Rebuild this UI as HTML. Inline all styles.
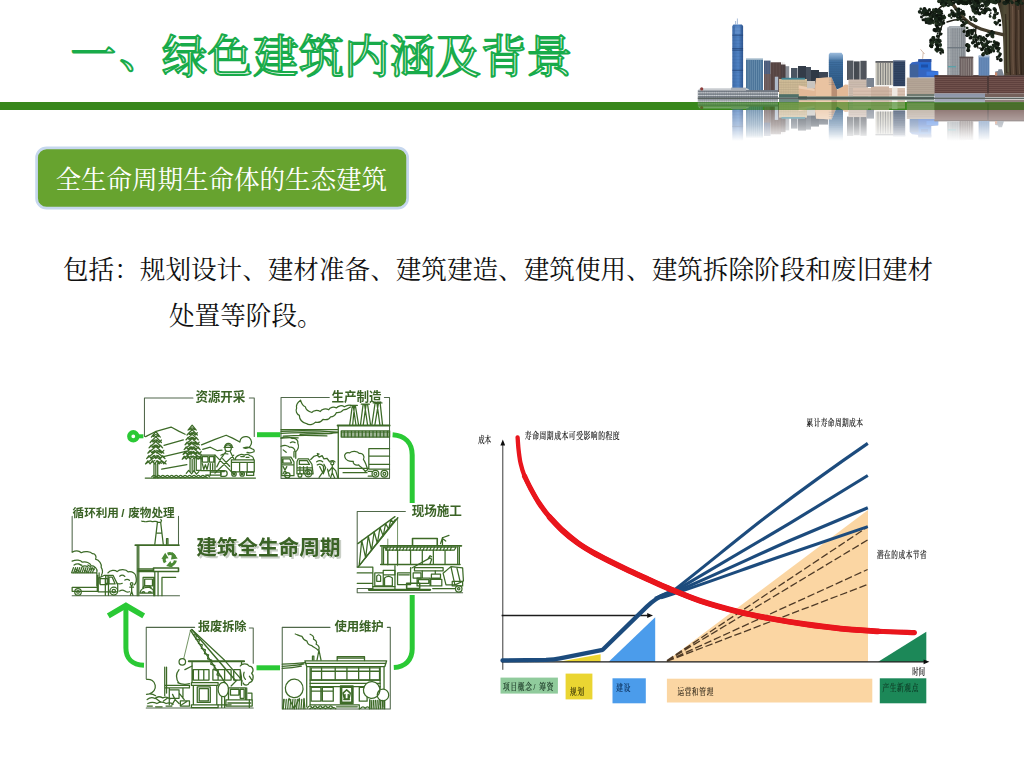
<!DOCTYPE html>
<html lang="zh-CN"><head><meta charset="utf-8"><title>一、绿色建筑内涵及背景</title>
<style>
html,body{margin:0;padding:0;background:#fff}
body{width:1024px;height:768px;position:relative;overflow:hidden;font-family:"Liberation Sans",sans-serif}
#art{position:absolute;left:0;top:0;width:1024px;height:768px;display:block}
.tx{position:absolute;margin:0;color:transparent;white-space:nowrap;overflow:hidden;font-family:"Liberation Serif",serif;font-weight:normal;line-height:1;user-select:none}
</style></head>
<body>
<svg id="art" width="1024" height="768" viewBox="0 0 1024 768">
<rect x="0" y="102" width="1024" height="8" fill="#38871b"/>
<g fill="#eefaf0" stroke="#18ab4a" stroke-width="2" stroke-linejoin="round" font-family="'Liberation Serif','Noto Serif CJK SC',serif" font-size="45.5"><text x="70.5" y="71.4">一</text><text x="119.2" y="68.4">、</text><text x="161.7" y="72.6" letter-spacing="0.1">绿色建筑内涵及背景</text></g>
<rect x="36.6" y="147.8" width="371" height="60.4" rx="10" ry="10" fill="#67a32f" stroke="#c6d7ee" stroke-width="2.7"/>
<text x="55.6" y="189" fill="#fff" font-family="'Liberation Serif','Noto Serif CJK SC',serif" font-size="25.6" letter-spacing="-0.1">全生命周期生命体的生态建筑</text>
<text x="63" y="279" fill="#111" font-family="'Liberation Serif','Noto Serif CJK SC',serif" font-size="25.6">包括：规划设计、建材准备、建筑建造、建筑使用、建筑拆除阶段和废旧建材</text>
<text x="169" y="324.6" fill="#111" font-family="'Liberation Serif','Noto Serif CJK SC',serif" font-size="25.6">处置等阶段。</text><defs><linearGradient id="rfade" x1="0" x2="0" y1="98.3" y2="141" gradientUnits="userSpaceOnUse"><stop offset="0" stop-color="#fff" stop-opacity=".85"/><stop offset=".085" stop-color="#fff" stop-opacity=".8"/><stop offset=".09" stop-color="#fff" stop-opacity=".38"/><stop offset=".27" stop-color="#fff" stop-opacity=".42"/><stop offset=".28" stop-color="#fff" stop-opacity=".72"/><stop offset=".62" stop-color="#fff" stop-opacity=".45"/><stop offset="1" stop-color="#fff" stop-opacity="0"/></linearGradient><mask id="rmask" maskUnits="userSpaceOnUse" x="690" y="98.3" width="334" height="46"><rect x="690" y="98.3" width="334" height="46" fill="url(#rfade)"/></mask></defs><g id="sky"><rect x="791" y="68" width="6.5" height="24" fill="#4a5562" /><rect x="798" y="66" width="8" height="26" fill="#333c48" /><rect x="806" y="67" width="5" height="25" fill="#46505d" /><rect x="811" y="70" width="8" height="22" fill="#2f3946" /><rect x="819" y="72" width="9" height="20" fill="#3c4654" /><rect x="785" y="66.2" width="4.2" height="25.8" fill="#8c9098" /><defs><linearGradient id="icc" x1="0" x2="1" y1="0" y2="0"><stop offset="0" stop-color="#3d6aa8"/><stop offset=".55" stop-color="#4f82c4"/><stop offset="1" stop-color="#2f5690"/></linearGradient><linearGradient id="gl2" x1="0" x2="0" y1="0" y2="1"><stop offset="0" stop-color="#9bbbdc"/><stop offset=".25" stop-color="#3f6fa0"/><stop offset="1" stop-color="#2c5680"/></linearGradient><linearGradient id="trk" x1="0" x2="1" y1="0" y2="0"><stop offset="0" stop-color="#2c241a"/><stop offset=".3" stop-color="#4f4b36"/><stop offset=".6" stop-color="#574234"/><stop offset="1" stop-color="#392d22"/></linearGradient></defs><polygon points="732.3,26 733.5,24.4 741.8,24.4 743.1,26 743.1,89 732.3,89" fill="url(#icc)" /><path d="M737.4 24.4V18.5M735.6 24.4V21" stroke="#6d8fbd" stroke-width=".6"/><path d="M732.3 35.2H743.1M732.3 48.6H743.1M732.3 50.2H743.1M732.3 70.3H743.1" stroke="#1f3f73" stroke-width=".9" opacity=".8"/><rect x="735" y="26.5" width="5.5" height="7.5" fill="#6d97d2" opacity=".6"/><path d="M732.3 27.6H743.1M732.3 30.8H743.1M732.3 34H743.1M732.3 37.2H743.1M732.3 40.4H743.1M732.3 43.6H743.1M732.3 46.8H743.1M732.3 50H743.1M732.3 53.2H743.1M732.3 56.4H743.1M732.3 59.6H743.1M732.3 62.8H743.1M732.3 66H743.1M732.3 69.2H743.1M732.3 72.4H743.1M732.3 75.6H743.1M732.3 78.8H743.1M732.3 82H743.1M732.3 85.2H743.1M732.3 88.4H743.1" stroke="#2c548d" stroke-width="0.4" opacity="0.35" fill="none"/><rect x="746" y="58.8" width="17" height="33.2" fill="#4a7398" /><path d="M748.1 59V92M750.2 59V92M752.3 59V92M754.4 59V92M756.5 59V92M758.6 59V92M760.7 59V92" stroke="#9dbcd4" stroke-width="0.7" opacity="0.5" fill="none"/><rect x="746" y="58.6" width="17" height="1.4" fill="#9fb6c8" /><rect x="764" y="60.6" width="6.5" height="31.4" fill="#475878" /><rect x="764" y="74" width="6.5" height="18" fill="#6a5552" /><path d="M765.6 61V92M767.2 61V92M768.8 61V92" stroke="#8d93a8" stroke-width="0.5" opacity="0.5" fill="none"/><rect x="770.5" y="62.3" width="10.5" height="29.7" fill="#52403f" /><rect x="781" y="64.5" width="4.5" height="27.5" fill="#453a3c" /><path d="M772 62.3V92M773.5 62.3V92M775 62.3V92M776.5 62.3V92M778 62.3V92M779.5 62.3V92M781 62.3V92M782.5 62.3V92M784 62.3V92" stroke="#8a7672" stroke-width="0.45" opacity="0.45" fill="none"/><rect x="774.8" y="76.7" width="3.4" height="15.3" fill="#aebaca" /><rect x="697.8" y="90.2" width="80.2" height="8.1" fill="#7b828b" /><polygon points="697.8,90.2 700,88.2 747,88.2 750,90.2" fill="#c9ccd0" /><rect x="731" y="87.6" width="15" height="2.4" fill="#a9afb8" /><path d="M697.8 92.8H778M697.8 95.4H778M697.8 98H778" stroke="#eef0f2" stroke-width="0.9" opacity="0.85" fill="none"/><path d="M700 91V98M702.2 91V98M704.4 91V98M706.6 91V98M708.8 91V98M711 91V98M713.2 91V98M715.4 91V98M717.6 91V98M719.8 91V98M722 91V98M724.2 91V98M726.4 91V98M728.6 91V98M730.8 91V98M733 91V98M735.2 91V98M737.4 91V98M739.6 91V98M741.8 91V98M744 91V98M746.2 91V98M748.4 91V98M750.6 91V98M752.8 91V98M755 91V98M757.2 91V98M759.4 91V98M761.6 91V98M763.8 91V98M766 91V98M768.2 91V98M770.4 91V98M772.6 91V98M774.8 91V98M777 91V98" stroke="#4a4f58" stroke-width="0.5" opacity="0.45" fill="none"/><circle cx="701.7" cy="88.9" r="1.6" fill="#8c3c3a"/><rect x="746" y="90.3" width="32" height="1.1" fill="#6f7680" /><rect x="779" y="79" width="28" height="17.5" fill="#cfbb97" /><rect x="781.5" y="77.8" width="23.5" height="1.8" fill="#3f8494" /><path d="M779 82.4H807M779 84.8H807M779 87.2H807M779 89.6H807M779 92H807M779 94.4H807" stroke="#9d8f73" stroke-width="0.5" opacity="0.55" fill="none"/><path d="M781.3 80V96M783.6 80V96M785.9 80V96M788.2 80V96M790.5 80V96M792.8 80V96M795.1 80V96M797.4 80V96M799.7 80V96M802 80V96M804.3 80V96M806.6 80V96" stroke="#b3a483" stroke-width="0.4" opacity="0.5" fill="none"/><rect x="779" y="94.2" width="28" height="3.4" fill="#4f7068" /><polygon points="798.8,85.5 814.5,88.6 816,78.2 831.5,77.2 837,90 845,84.5 848.5,84.8 848.5,96.6 798.8,96.6" fill="#e2b997" /><polygon points="816,78.2 831.5,77.2 831.5,96.6 816,96.6" fill="#e9c3a1" /><polygon points="831.5,77.2 837,90 837,96.6 831.5,96.6" fill="#b98f74" /><polygon points="798.8,85.5 814.5,88.6 814.5,91 798.8,88.5" fill="#eccdb2" /><rect x="807" y="81" width="8" height="7.3" fill="#c9c5c0" /><polygon points="828.8,54.5 830,52.8 841.5,52.8 843,55 843,86.5 838,89 836.8,89.5 831.6,77.2 828.8,77.3" fill="url(#gl2)" /><path d="M828.8 60.2H843M828.8 62.4H843M828.8 64.6H843M828.8 66.8H843M828.8 69H843M828.8 71.2H843M828.8 73.4H843M828.8 75.6H843M828.8 77.8H843M828.8 80H843M828.8 82.2H843M828.8 84.4H843" stroke="#1f4468" stroke-width="0.4" opacity="0.5" fill="none"/><rect x="847" y="60.6" width="6.3" height="19.4" fill="#50555c" /><rect x="853.8" y="61.4" width="5.8" height="18.6" fill="#3f444b" /><rect x="860.4" y="60.8" width="6.2" height="19.2" fill="#4a4e56" /><path d="M848.3 61V80M849.6 61V80M850.9 61V80M852.2 61V80M853.5 61V80M854.8 61V80M856.1 61V80M857.4 61V80M858.7 61V80M860 61V80M861.3 61V80M862.6 61V80M863.9 61V80M865.2 61V80" stroke="#7b8088" stroke-width="0.35" opacity="0.5" fill="none"/><rect x="848.5" y="79.5" width="19.5" height="17.1" fill="#cdbcb0" /><path d="M848.5 82.2H868M848.5 84.4H868M848.5 86.6H868M848.5 88.8H868M848.5 91H868M848.5 93.2H868M848.5 95.4H868" stroke="#a29084" stroke-width="0.4" opacity="0.5" fill="none"/><rect x="853" y="88" width="52" height="8.6" fill="#d8c1b1" /><rect x="871" y="86.4" width="18" height="10.2" fill="#cdb4a2" /><path d="M853 91.2H905M853 94.4H905" stroke="#a98d7c" stroke-width="0.5" opacity="0.5" fill="none"/><rect x="892" y="87.5" width="5.5" height="9.1" fill="#efe9e2" /><rect x="866.5" y="78" width="7.5" height="9" fill="#7a8390" /><rect x="875.5" y="61.6" width="17.7" height="23.6" fill="#c9c6bb" /><rect x="875.5" y="61.2" width="17.7" height="1.4" fill="#3c4048" /><path d="M878 63V85M880.5 63V85M883 63V85M885.5 63V85M888 63V85M890.5 63V85" stroke="#5b5e62" stroke-width="1.0" opacity="0.7" fill="none"/><rect x="893.2" y="60.4" width="12" height="25.8" fill="#2d3f5c" /><path d="M893.2 63.3H905.2M893.2 65.6H905.2M893.2 67.9H905.2M893.2 70.2H905.2M893.2 72.5H905.2M893.2 74.8H905.2M893.2 77.1H905.2M893.2 79.4H905.2M893.2 81.7H905.2M893.2 84H905.2" stroke="#5c7397" stroke-width="0.4" opacity="0.5" fill="none"/><rect x="893.2" y="60.2" width="12" height="1.2" fill="#8795aa" /><polygon points="909.8,64.5 912,62.3 918.3,61.5 918.3,59.4 931.3,59 931.3,70.6 938.2,71.2 938.2,77.5 909.8,77.5" fill="#3565c0" /><rect x="918.3" y="59.2" width="13" height="2.8" fill="#2a4e9a" /><rect x="909.8" y="64.5" width="8.5" height="13" fill="#3f629a" /><rect x="919" y="62.5" width="11.5" height="7" fill="#2468cf" /><rect x="921" y="64.5" width="7" height="3" fill="#1d4fa8" /><rect x="926.5" y="71.6" width="11.7" height="4" fill="#3a78e0" /><path d="M922.6 58.8L923.2 52.5L920.5 49.3M923.2 52.5L924.6 54" stroke="#a87b5a" stroke-width=".5" fill="none"/><rect x="906.8" y="77.6" width="27.9" height="16.4" fill="#b7a899" /><path d="M906.8 79.9H934.7M906.8 81.8H934.7M906.8 83.7H934.7M906.8 85.6H934.7M906.8 87.5H934.7M906.8 89.4H934.7M906.8 91.3H934.7M906.8 93.2H934.7" stroke="#8d7f73" stroke-width="0.45" opacity="0.6" fill="none"/><rect x="906.8" y="94" width="27.9" height="2" fill="#6f7a70" /><rect x="934.5" y="75.6" width="89.5" height="17.9" fill="#5e403d" /><path d="M934.5 77.6H1024M934.5 79.6H1024M934.5 81.6H1024M934.5 83.6H1024M934.5 85.6H1024M934.5 87.6H1024M934.5 89.6H1024M934.5 91.6H1024" stroke="#a07f78" stroke-width="0.55" opacity="0.55" fill="none"/><rect x="934.5" y="75.2" width="89.5" height="1.4" fill="#4a3634" /><rect x="987" y="76.4" width="2" height="17.1" fill="#4e3a38" /><rect x="934.5" y="93.5" width="50.5" height="4.1" fill="#8b93a6" /><rect x="985" y="93.5" width="39" height="3.5" fill="#75615c" /><path d="M934.5 95.1H985M934.5 96.7H985" stroke="#b6bccb" stroke-width="0.4" opacity="0.6" fill="none"/><rect x="947.4" y="27.6" width="18" height="47.4" fill="#8b9298" /><polygon points="947.4,27.6 949.5,26.2 963.5,26.2 965.4,27.6" fill="#8a939c" /><rect x="947.4" y="27.6" width="3.6" height="47.4" fill="#9da3a8" /><rect x="961" y="27.6" width="4.4" height="47.4" fill="#7f858b" /><path d="M947.4 29.5H965.4M947.4 31H965.4M947.4 32.5H965.4M947.4 34H965.4M947.4 35.5H965.4M947.4 37H965.4M947.4 38.5H965.4M947.4 40H965.4M947.4 41.5H965.4M947.4 43H965.4M947.4 44.5H965.4M947.4 46H965.4M947.4 47.5H965.4M947.4 49H965.4M947.4 50.5H965.4M947.4 52H965.4M947.4 53.5H965.4M947.4 55H965.4M947.4 56.5H965.4M947.4 58H965.4M947.4 59.5H965.4M947.4 61H965.4M947.4 62.5H965.4M947.4 64H965.4M947.4 65.5H965.4M947.4 67H965.4M947.4 68.5H965.4M947.4 70H965.4M947.4 71.5H965.4M947.4 73H965.4M947.4 74.5H965.4" stroke="#70767c" stroke-width="0.35" opacity="0.5" fill="none"/><path d="M949.6 28V75M951.8 28V75M954 28V75M956.2 28V75M958.4 28V75M960.6 28V75M962.8 28V75M965 28V75" stroke="#c9ccce" stroke-width="0.6" opacity="0.6" fill="none"/><rect x="947.4" y="47" width="18" height="1.4" fill="#6f7880" /><rect x="948" y="66" width="8" height="1.4" fill="#5da0a8" /><rect x="959.6" y="57" width="13.6" height="18.6" fill="#6b5f5f" /><path d="M961.8 58.5V75.6M964 58.5V75.6M966.2 58.5V75.6M968.4 58.5V75.6M970.6 58.5V75.6M972.8 58.5V75.6" stroke="#c4bbb2" stroke-width="0.7" opacity="0.6" fill="none"/><rect x="959.6" y="56.6" width="13.6" height="1.4" fill="#5b4e4d" /><rect x="978.6" y="56.2" width="10.8" height="19.4" fill="#5c80b0" /><rect x="978.6" y="55.2" width="10.8" height="2.2" fill="#9db4cf" /><path d="M980.4 57.4V75.6M982.2 57.4V75.6M984 57.4V75.6M985.8 57.4V75.6M987.6 57.4V75.6" stroke="#93aed0" stroke-width="0.45" opacity="0.55" fill="none"/><polygon points="995,75.6 995.2,71.5 998,71 998.5,69.3 1002,69.3 1004,75.6" fill="#7d8794" /><rect x="995" y="72.4" width="2.2" height="3.2" fill="#c9866a" /><rect x="798" y="96.4" width="136" height="1.9" fill="#4a6458" opacity=".85"/><path d="M697.8 98.1H1024" stroke="#27332f" stroke-width="1" opacity=".85"/></g><g mask="url(#rmask)"><use href="#sky" transform="translate(0 196.6) scale(1 -1)"/></g><path d="M996 0C998.5 5 1000.8 12 1002 22C1003.2 34 1003.6 48 1004.2 75.2H1024V0Z" fill="url(#trk)"/><path d="M1009 0C1010.5 20 1008.5 45 1010.5 75M1015.5 0C1017 25 1014.5 50 1016.5 75M1020.5 0C1021.5 30 1020 55 1021.5 75M1005.5 14C1006.5 30 1006 50 1006.8 73" stroke="#241b12" stroke-width="1.3" opacity=".6" fill="none"/><path d="M1012.5 6C1013.5 25 1012 50 1013.5 74M1018.5 10C1019.5 30 1018 52 1019.5 74" stroke="#7d6854" stroke-width="1.1" opacity=".55" fill="none"/><path d="M1007.5 20C1008.5 35 1007.5 55 1008.3 72" stroke="#5f6448" stroke-width="1.6" opacity=".6" fill="none"/><path d="M1003 34.5C996 33 988 31.5 981 29C973 26 966 21.5 961 15C957.5 10.5 954 6 951 2" stroke="#453d2d" stroke-width="3.4" fill="none" stroke-linecap="round"/><path d="M976 27C975 34 975.5 41 978 48M966 20C960 19 953 20 947 22M947 3C943 5 939 8 935 12M944 20C941 27 939 35 938 44" stroke="#1d1c14" stroke-width="1.4" fill="none" stroke-linecap="round"/><circle cx="958.08" cy="0.31" r="1.58" fill="#0e140e"/><circle cx="974.13" cy="3.82" r="1.06" fill="#0e140e"/><circle cx="964.89" cy="0.47" r="0.91" fill="#10180f"/><circle cx="941.66" cy="1.62" r="1.94" fill="#18241a"/><circle cx="976.9" cy="4.07" r="1.49" fill="#10180f"/><circle cx="972.51" cy="0.34" r="1.3" fill="#22301f"/><circle cx="945.3" cy="-0.03" r="1.78" fill="#141d14"/><circle cx="944.39" cy="1.66" r="1.03" fill="#0e140e"/><circle cx="971.96" cy="0.48" r="0.87" fill="#141d14"/><circle cx="968.78" cy="1.4" r="1.73" fill="#10180f"/><circle cx="974.3" cy="0.9" r="1.16" fill="#141d14"/><circle cx="981.34" cy="-0.44" r="1.49" fill="#22301f"/><circle cx="968.7" cy="0.2" r="1.34" fill="#22301f"/><circle cx="963.92" cy="2.85" r="0.98" fill="#10180f"/><circle cx="964.15" cy="4.16" r="0.89" fill="#22301f"/><circle cx="973.53" cy="3.6" r="1.18" fill="#18241a"/><circle cx="959.71" cy="1.18" r="1.76" fill="#0e140e"/><circle cx="967.39" cy="2.25" r="0.87" fill="#18241a"/><circle cx="957.2" cy="1.7" r="1.62" fill="#10180f"/><circle cx="955.64" cy="0.47" r="1.6" fill="#0e140e"/><circle cx="996.32" cy="0.27" r="1.53" fill="#10180f"/><circle cx="946.02" cy="-0.42" r="1.27" fill="#10180f"/><circle cx="943" cy="0.87" r="1.46" fill="#141d14"/><circle cx="988.8" cy="3.53" r="1.13" fill="#10180f"/><circle cx="961.59" cy="-0.52" r="0.9" fill="#141d14"/><circle cx="952.38" cy="-0.51" r="1.38" fill="#22301f"/><circle cx="949.31" cy="-0.2" r="0.97" fill="#22301f"/><circle cx="960.89" cy="1.62" r="1.94" fill="#18241a"/><circle cx="978.61" cy="2.73" r="1.35" fill="#18241a"/><circle cx="987.47" cy="0.51" r="1.28" fill="#0e140e"/><circle cx="967.85" cy="0.56" r="1.03" fill="#141d14"/><circle cx="965.32" cy="0.39" r="1.52" fill="#0e140e"/><circle cx="944.29" cy="0.33" r="0.83" fill="#141d14"/><circle cx="976.07" cy="0.31" r="1.1" fill="#1b2a1b"/><circle cx="975.34" cy="1.03" r="0.94" fill="#10180f"/><circle cx="999.57" cy="0.98" r="1.38" fill="#0e140e"/><circle cx="946.94" cy="2.8" r="1.69" fill="#10180f"/><circle cx="989.39" cy="-0.97" r="0.83" fill="#22301f"/><circle cx="960.43" cy="2.42" r="1.9" fill="#22301f"/><circle cx="956.48" cy="2.11" r="0.91" fill="#1b2a1b"/><circle cx="970.14" cy="3.81" r="1.23" fill="#141d14"/><circle cx="971.02" cy="2.99" r="1.2" fill="#141d14"/><circle cx="976.02" cy="3.05" r="1.71" fill="#141d14"/><circle cx="987.98" cy="3.24" r="1.69" fill="#141d14"/><circle cx="950.39" cy="1.15" r="1.68" fill="#0e140e"/><circle cx="986.99" cy="1.02" r="1.03" fill="#22301f"/><circle cx="997.3" cy="0.86" r="1.92" fill="#1b2a1b"/><circle cx="997.21" cy="0.33" r="1.06" fill="#141d14"/><circle cx="967.14" cy="0.16" r="1.38" fill="#22301f"/><circle cx="990.11" cy="1.07" r="1.58" fill="#18241a"/><circle cx="943.26" cy="2.23" r="1.89" fill="#18241a"/><circle cx="984.51" cy="1.06" r="1.01" fill="#18241a"/><circle cx="958.62" cy="3.13" r="1.97" fill="#10180f"/><circle cx="966.72" cy="2.76" r="0.9" fill="#141d14"/><circle cx="948.54" cy="0.36" r="0.98" fill="#10180f"/><circle cx="988" cy="0.32" r="1.79" fill="#10180f"/><circle cx="978.75" cy="0.24" r="1.46" fill="#141d14"/><circle cx="983.03" cy="0.4" r="1.7" fill="#141d14"/><circle cx="964.9" cy="3.58" r="1.79" fill="#141d14"/><circle cx="969.07" cy="2.89" r="1.19" fill="#22301f"/><circle cx="963.98" cy="0.35" r="1.89" fill="#1b2a1b"/><circle cx="993.66" cy="2.24" r="1.78" fill="#22301f"/><circle cx="964.08" cy="3.87" r="1.4" fill="#22301f"/><circle cx="947.41" cy="1.27" r="1.85" fill="#141d14"/><circle cx="975.73" cy="2.97" r="0.98" fill="#141d14"/><circle cx="967.36" cy="2.64" r="1.47" fill="#1b2a1b"/><circle cx="980.3" cy="1.4" r="1.38" fill="#0e140e"/><circle cx="944.06" cy="0.89" r="0.83" fill="#0e140e"/><circle cx="965.48" cy="1.92" r="1.41" fill="#22301f"/><circle cx="950.36" cy="-0.23" r="1.41" fill="#10180f"/><circle cx="969.48" cy="-0.42" r="1.43" fill="#1b2a1b"/><circle cx="950.56" cy="0.86" r="1.3" fill="#10180f"/><circle cx="965.41" cy="0.46" r="1.09" fill="#0e140e"/><circle cx="951.19" cy="-0.06" r="0.95" fill="#141d14"/><circle cx="996.25" cy="2.12" r="1.24" fill="#1b2a1b"/><circle cx="962.69" cy="1.12" r="1.99" fill="#141d14"/><circle cx="948.01" cy="0.76" r="1.42" fill="#1b2a1b"/><circle cx="964.12" cy="0.28" r="0.91" fill="#1b2a1b"/><circle cx="939.21" cy="1.55" r="1.33" fill="#0e140e"/><circle cx="961.83" cy="1.31" r="1.15" fill="#0e140e"/><circle cx="952.17" cy="3.61" r="0.9" fill="#1b2a1b"/><circle cx="954.77" cy="0.35" r="1.31" fill="#18241a"/><circle cx="988.78" cy="-0.34" r="0.98" fill="#22301f"/><circle cx="973.38" cy="2.48" r="0.91" fill="#0e140e"/><circle cx="987.57" cy="-0.83" r="1.87" fill="#1b2a1b"/><circle cx="996.18" cy="2.06" r="1.76" fill="#0e140e"/><circle cx="975.71" cy="-0.58" r="1.12" fill="#0e140e"/><circle cx="966.13" cy="0.17" r="1.46" fill="#1b2a1b"/><circle cx="976.55" cy="0.52" r="1.65" fill="#0e140e"/><circle cx="976.98" cy="1.4" r="1.05" fill="#10180f"/><circle cx="969.01" cy="-0.86" r="1.22" fill="#0e140e"/><circle cx="939.14" cy="1.24" r="1.97" fill="#22301f"/><circle cx="967.44" cy="3.98" r="0.93" fill="#18241a"/><circle cx="964.8" cy="1.17" r="1.8" fill="#10180f"/><circle cx="951.34" cy="-0.53" r="1.04" fill="#18241a"/><circle cx="983.19" cy="0.33" r="1.99" fill="#0e140e"/><circle cx="976.78" cy="3.63" r="1.32" fill="#0e140e"/><circle cx="991.97" cy="2.29" r="1.14" fill="#141d14"/><circle cx="980.95" cy="0.51" r="1.02" fill="#1b2a1b"/><circle cx="965.64" cy="-0.32" r="1.95" fill="#22301f"/><circle cx="958.06" cy="0.53" r="1.86" fill="#141d14"/><circle cx="961.66" cy="1.04" r="1.4" fill="#141d14"/><circle cx="953.39" cy="2.97" r="0.91" fill="#0e140e"/><circle cx="946.92" cy="1.76" r="1.27" fill="#1b2a1b"/><circle cx="956.86" cy="-0.51" r="1.5" fill="#22301f"/><circle cx="990.9" cy="0.3" r="1.87" fill="#22301f"/><circle cx="962.15" cy="0.09" r="1.98" fill="#141d14"/><circle cx="955.62" cy="1.96" r="0.97" fill="#18241a"/><circle cx="993.3" cy="2.01" r="1.68" fill="#22301f"/><circle cx="946.64" cy="1.35" r="1.41" fill="#0e140e"/><circle cx="989.24" cy="1.74" r="1.87" fill="#18241a"/><circle cx="997.28" cy="2.11" r="0.9" fill="#0e140e"/><circle cx="946.25" cy="0.31" r="0.93" fill="#10180f"/><circle cx="972.63" cy="2.02" r="1.55" fill="#18241a"/><circle cx="953.16" cy="-0.31" r="1.35" fill="#0e140e"/><circle cx="984.39" cy="1.22" r="1.44" fill="#18241a"/><circle cx="970.61" cy="2.77" r="1.37" fill="#0e140e"/><circle cx="990.46" cy="-0.5" r="1.71" fill="#141d14"/><circle cx="968.62" cy="0.45" r="1.37" fill="#18241a"/><circle cx="977.23" cy="-0.73" r="1.52" fill="#1b2a1b"/><circle cx="953.74" cy="2.76" r="1.17" fill="#22301f"/><circle cx="946.27" cy="1.09" r="1.38" fill="#18241a"/><circle cx="944.17" cy="-0.61" r="1.39" fill="#18241a"/><circle cx="970.03" cy="0.97" r="1.36" fill="#0e140e"/><circle cx="999.58" cy="1.51" r="1.17" fill="#0e140e"/><circle cx="966.46" cy="3.25" r="1.96" fill="#10180f"/><circle cx="984.34" cy="-0.32" r="1.23" fill="#22301f"/><circle cx="988.85" cy="1.26" r="1.86" fill="#18241a"/><circle cx="960.64" cy="1.19" r="1.85" fill="#10180f"/><circle cx="968.49" cy="0.88" r="1.16" fill="#141d14"/><circle cx="963.8" cy="0.41" r="0.95" fill="#1b2a1b"/><circle cx="995.44" cy="2.56" r="1.88" fill="#1b2a1b"/><circle cx="962.19" cy="3.57" r="0.89" fill="#10180f"/><circle cx="984.85" cy="3.47" r="1.14" fill="#0e140e"/><circle cx="989.75" cy="-0.17" r="1.92" fill="#141d14"/><circle cx="998.2" cy="0.79" r="1.18" fill="#1b2a1b"/><circle cx="986.68" cy="0.74" r="0.83" fill="#18241a"/><circle cx="962.8" cy="3.6" r="1.46" fill="#141d14"/><circle cx="983.41" cy="0.89" r="1.7" fill="#18241a"/><circle cx="991.91" cy="1.11" r="1.89" fill="#22301f"/><circle cx="945.89" cy="1.02" r="1.21" fill="#1b2a1b"/><circle cx="953.86" cy="2.73" r="1.58" fill="#10180f"/><circle cx="978.67" cy="-0.07" r="1.47" fill="#10180f"/><circle cx="945.42" cy="2.12" r="0.89" fill="#22301f"/><circle cx="994.17" cy="1.18" r="1.06" fill="#1b2a1b"/><circle cx="999.78" cy="0.88" r="0.97" fill="#141d14"/><circle cx="953.13" cy="-0.88" r="1.47" fill="#1b2a1b"/><circle cx="952.83" cy="-0.35" r="1.48" fill="#0e140e"/><circle cx="984.48" cy="0.64" r="1.3" fill="#22301f"/><circle cx="951.02" cy="-0.27" r="1.7" fill="#10180f"/><circle cx="973.27" cy="7.54" r="1.56" fill="#141d14"/><circle cx="977.92" cy="9.4" r="1.32" fill="#1b2a1b"/><circle cx="983.77" cy="12.64" r="1.37" fill="#22301f"/><circle cx="979.82" cy="1.95" r="1.92" fill="#22301f"/><circle cx="975.47" cy="2.42" r="0.99" fill="#22301f"/><circle cx="985.86" cy="10.11" r="1.82" fill="#10180f"/><circle cx="972.53" cy="11.1" r="0.8" fill="#141d14"/><circle cx="975.19" cy="12.96" r="1.57" fill="#1b2a1b"/><circle cx="988.32" cy="9.14" r="1.43" fill="#10180f"/><circle cx="983.57" cy="2.46" r="0.88" fill="#22301f"/><circle cx="975.7" cy="11.28" r="0.8" fill="#22301f"/><circle cx="976.43" cy="6.99" r="1.95" fill="#18241a"/><circle cx="986.11" cy="4.15" r="1.43" fill="#22301f"/><circle cx="983.68" cy="5" r="0.83" fill="#10180f"/><circle cx="986.93" cy="9.41" r="0.9" fill="#141d14"/><circle cx="983.01" cy="13.03" r="1.07" fill="#0e140e"/><circle cx="983.52" cy="10.34" r="1.23" fill="#10180f"/><circle cx="974.57" cy="11.36" r="1.69" fill="#22301f"/><circle cx="972.21" cy="7.44" r="1.04" fill="#141d14"/><circle cx="975.15" cy="3.88" r="1.71" fill="#1b2a1b"/><circle cx="972.96" cy="9.11" r="1.53" fill="#141d14"/><circle cx="979.73" cy="12.84" r="0.87" fill="#22301f"/><circle cx="973.63" cy="6.11" r="1.06" fill="#22301f"/><circle cx="972.08" cy="6.11" r="1.88" fill="#1b2a1b"/><circle cx="987.77" cy="5.28" r="1.02" fill="#22301f"/><circle cx="982.96" cy="5.92" r="1.25" fill="#1b2a1b"/><circle cx="978.96" cy="2.42" r="0.89" fill="#0e140e"/><circle cx="977.33" cy="13.42" r="0.95" fill="#141d14"/><circle cx="977.84" cy="10.99" r="1.17" fill="#10180f"/><circle cx="972.58" cy="10.17" r="1.03" fill="#22301f"/><circle cx="977.56" cy="12.66" r="0.84" fill="#10180f"/><circle cx="975.46" cy="9.13" r="1.29" fill="#10180f"/><circle cx="987.56" cy="4.34" r="1.7" fill="#22301f"/><circle cx="977.1" cy="4.54" r="1.95" fill="#22301f"/><circle cx="983.41" cy="13.01" r="1.16" fill="#18241a"/><circle cx="984.6" cy="12.91" r="1.56" fill="#0e140e"/><circle cx="979.55" cy="13.44" r="1.94" fill="#10180f"/><circle cx="985.67" cy="2.73" r="1.4" fill="#0e140e"/><circle cx="985.45" cy="10.6" r="1.79" fill="#141d14"/><circle cx="981.93" cy="5.26" r="1.18" fill="#1b2a1b"/><circle cx="985.11" cy="8.74" r="1.41" fill="#10180f"/><circle cx="984.55" cy="4.21" r="0.88" fill="#0e140e"/><circle cx="979.67" cy="8.08" r="0.99" fill="#10180f"/><circle cx="975.77" cy="2.09" r="0.92" fill="#10180f"/><circle cx="974.12" cy="2.73" r="1.35" fill="#18241a"/><circle cx="975.23" cy="8" r="1.73" fill="#0e140e"/><circle cx="985.04" cy="4.82" r="1.14" fill="#1b2a1b"/><circle cx="977.71" cy="10.59" r="1.04" fill="#141d14"/><circle cx="974.34" cy="4.06" r="1.14" fill="#22301f"/><circle cx="975.53" cy="4.2" r="1.43" fill="#18241a"/><circle cx="985.55" cy="9.49" r="1.99" fill="#0e140e"/><circle cx="975.16" cy="6.83" r="1.25" fill="#1b2a1b"/><circle cx="981.81" cy="11.76" r="1.03" fill="#0e140e"/><circle cx="977.7" cy="12.26" r="1.34" fill="#1b2a1b"/><circle cx="984.95" cy="9.64" r="0.81" fill="#18241a"/><circle cx="981.73" cy="9.06" r="1.06" fill="#1b2a1b"/><circle cx="977.12" cy="1.57" r="2" fill="#0e140e"/><circle cx="981.79" cy="9.47" r="1.04" fill="#0e140e"/><circle cx="985.74" cy="6.32" r="1.25" fill="#22301f"/><circle cx="976.62" cy="3.64" r="1.75" fill="#22301f"/><circle cx="979.7" cy="6.31" r="1.76" fill="#18241a"/><circle cx="980.9" cy="9.31" r="0.91" fill="#141d14"/><circle cx="978.16" cy="4.53" r="1.99" fill="#18241a"/><circle cx="976.54" cy="13.39" r="1.17" fill="#22301f"/><circle cx="986.91" cy="6.38" r="0.82" fill="#1b2a1b"/><circle cx="982.6" cy="6.08" r="1.29" fill="#0e140e"/><circle cx="978.81" cy="3.04" r="0.94" fill="#0e140e"/><circle cx="978.31" cy="12.48" r="1.35" fill="#141d14"/><circle cx="973.56" cy="11.48" r="1.28" fill="#22301f"/><circle cx="982.2" cy="5.82" r="1.41" fill="#141d14"/><circle cx="977.26" cy="3.1" r="1.01" fill="#0e140e"/><circle cx="972.96" cy="7.38" r="1.77" fill="#141d14"/><circle cx="976.43" cy="11.88" r="0.85" fill="#10180f"/><circle cx="976.66" cy="8.9" r="1.56" fill="#0e140e"/><circle cx="987.28" cy="9.06" r="1.79" fill="#141d14"/><circle cx="982.53" cy="12.14" r="1.55" fill="#22301f"/><circle cx="986.23" cy="11.78" r="1.02" fill="#141d14"/><circle cx="973.82" cy="5.67" r="0.98" fill="#18241a"/><circle cx="985.68" cy="3.5" r="1.86" fill="#18241a"/><circle cx="973.12" cy="8.79" r="1.46" fill="#18241a"/><circle cx="949.06" cy="5.19" r="1.17" fill="#141d14"/><circle cx="945.18" cy="5.27" r="1.34" fill="#10180f"/><circle cx="951.35" cy="3.72" r="1.34" fill="#22301f"/><circle cx="949.08" cy="3.67" r="1.02" fill="#10180f"/><circle cx="944.9" cy="0.54" r="1.23" fill="#1b2a1b"/><circle cx="941.51" cy="3.54" r="1.41" fill="#0e140e"/><circle cx="950.64" cy="2.51" r="1.66" fill="#0e140e"/><circle cx="941.1" cy="4.03" r="1.25" fill="#141d14"/><circle cx="947.26" cy="5.54" r="0.93" fill="#141d14"/><circle cx="951.3" cy="3.93" r="1.95" fill="#141d14"/><circle cx="948.05" cy="5.77" r="1.07" fill="#1b2a1b"/><circle cx="947.21" cy="2.02" r="1.19" fill="#22301f"/><circle cx="943.52" cy="6.53" r="0.97" fill="#22301f"/><circle cx="951.11" cy="3.84" r="1.51" fill="#22301f"/><circle cx="946.07" cy="2.55" r="0.84" fill="#141d14"/><circle cx="944.94" cy="5.09" r="1.13" fill="#1b2a1b"/><circle cx="949.13" cy="0.92" r="1.44" fill="#18241a"/><circle cx="945.48" cy="4.17" r="1.63" fill="#0e140e"/><circle cx="943.27" cy="4.29" r="1.83" fill="#18241a"/><circle cx="949.27" cy="2.12" r="1.99" fill="#22301f"/><circle cx="942.11" cy="2.65" r="0.9" fill="#141d14"/><circle cx="942.44" cy="5.95" r="0.86" fill="#22301f"/><circle cx="943.29" cy="5.11" r="1.98" fill="#22301f"/><circle cx="948.56" cy="5.98" r="1.07" fill="#1b2a1b"/><circle cx="1016.32" cy="2.09" r="1.42" fill="#0e140e"/><circle cx="1006.64" cy="0.86" r="1.58" fill="#0e140e"/><circle cx="1005.09" cy="2.9" r="1.16" fill="#22301f"/><circle cx="1011.14" cy="0.85" r="1.5" fill="#22301f"/><circle cx="1006.67" cy="1.7" r="1.79" fill="#141d14"/><circle cx="1008.87" cy="0.4" r="0.91" fill="#18241a"/><circle cx="1006.89" cy="3.49" r="1.12" fill="#1b2a1b"/><circle cx="1015.89" cy="2.97" r="1.52" fill="#22301f"/><circle cx="1018.67" cy="0.99" r="1.88" fill="#0e140e"/><circle cx="1007.71" cy="0.46" r="1.89" fill="#0e140e"/><circle cx="1004.25" cy="2.81" r="1.93" fill="#141d14"/><circle cx="1012.26" cy="2.61" r="1.57" fill="#18241a"/><circle cx="1016.83" cy="4.38" r="1.01" fill="#1b2a1b"/><circle cx="1005.28" cy="3.26" r="1.99" fill="#18241a"/><circle cx="1019.66" cy="3.79" r="0.81" fill="#10180f"/><circle cx="1018.9" cy="2.29" r="1.69" fill="#10180f"/><circle cx="1009.23" cy="3.36" r="0.95" fill="#18241a"/><circle cx="1016.72" cy="3.58" r="1.62" fill="#22301f"/><circle cx="1005.71" cy="2.54" r="1" fill="#141d14"/><circle cx="1020.83" cy="0.72" r="0.99" fill="#1b2a1b"/><circle cx="1007.84" cy="1.83" r="1.52" fill="#10180f"/><circle cx="1022.15" cy="3.28" r="1.63" fill="#18241a"/><circle cx="1020.83" cy="2.72" r="1.37" fill="#22301f"/><circle cx="1017.95" cy="4.65" r="1.32" fill="#18241a"/><circle cx="926.61" cy="21.77" r="1.75" fill="#10180f"/><circle cx="935.94" cy="9.67" r="1.89" fill="#141d14"/><circle cx="935.93" cy="10.93" r="1.97" fill="#18241a"/><circle cx="937.62" cy="18.01" r="1.64" fill="#18241a"/><circle cx="939.28" cy="11.49" r="1.95" fill="#22301f"/><circle cx="925.94" cy="10.18" r="0.84" fill="#18241a"/><circle cx="923.1" cy="19.77" r="1.56" fill="#10180f"/><circle cx="939.18" cy="11.57" r="1.18" fill="#10180f"/><circle cx="927.27" cy="13.76" r="1.92" fill="#0e140e"/><circle cx="938.18" cy="14.02" r="1.18" fill="#22301f"/><circle cx="933.09" cy="21.27" r="1.54" fill="#0e140e"/><circle cx="933.45" cy="9.97" r="1.36" fill="#0e140e"/><circle cx="933.91" cy="11.75" r="1.83" fill="#0e140e"/><circle cx="934.79" cy="12.81" r="1.32" fill="#22301f"/><circle cx="925.85" cy="19.93" r="1.97" fill="#0e140e"/><circle cx="929.35" cy="9.94" r="1.63" fill="#141d14"/><circle cx="944.21" cy="17.39" r="1.95" fill="#22301f"/><circle cx="927.81" cy="11.72" r="1.64" fill="#10180f"/><circle cx="939.4" cy="15.85" r="1.99" fill="#22301f"/><circle cx="939.89" cy="17.92" r="1.23" fill="#10180f"/><circle cx="938.89" cy="14.83" r="1.58" fill="#1b2a1b"/><circle cx="925.95" cy="12.45" r="1.88" fill="#22301f"/><circle cx="936.14" cy="22.66" r="0.95" fill="#22301f"/><circle cx="939.11" cy="19.79" r="1.58" fill="#1b2a1b"/><circle cx="934.96" cy="16.33" r="1.84" fill="#10180f"/><circle cx="936.89" cy="19.63" r="1" fill="#10180f"/><circle cx="937.54" cy="12.36" r="1.08" fill="#1b2a1b"/><circle cx="932.09" cy="21.78" r="1.09" fill="#141d14"/><circle cx="927.42" cy="19.82" r="1.79" fill="#22301f"/><circle cx="924.71" cy="10.84" r="1.1" fill="#1b2a1b"/><circle cx="935.47" cy="13.73" r="1.08" fill="#141d14"/><circle cx="936.79" cy="11.43" r="0.98" fill="#141d14"/><circle cx="940.08" cy="19.5" r="1.32" fill="#141d14"/><circle cx="927.74" cy="21.78" r="1.36" fill="#0e140e"/><circle cx="930.58" cy="20.37" r="1.63" fill="#22301f"/><circle cx="926.81" cy="21.29" r="1.64" fill="#22301f"/><circle cx="938.98" cy="14.82" r="1.07" fill="#18241a"/><circle cx="936.66" cy="21.66" r="1.57" fill="#22301f"/><circle cx="941.46" cy="18.69" r="1.57" fill="#10180f"/><circle cx="931.38" cy="12.4" r="1.64" fill="#10180f"/><circle cx="926.82" cy="14.5" r="1.66" fill="#141d14"/><circle cx="927" cy="14.85" r="1.35" fill="#22301f"/><circle cx="941.6" cy="16.27" r="1.59" fill="#141d14"/><circle cx="942.47" cy="13.42" r="0.81" fill="#10180f"/><circle cx="927.03" cy="11.77" r="1.66" fill="#141d14"/><circle cx="933.46" cy="10.02" r="1.49" fill="#22301f"/><circle cx="925.92" cy="15.64" r="0.82" fill="#1b2a1b"/><circle cx="933.52" cy="14.66" r="1.94" fill="#141d14"/><circle cx="933.33" cy="22.49" r="1.67" fill="#22301f"/><circle cx="929.53" cy="9.35" r="1.13" fill="#10180f"/><circle cx="942.97" cy="17.93" r="1.61" fill="#22301f"/><circle cx="927.36" cy="11.87" r="1.69" fill="#22301f"/><circle cx="944.06" cy="15.43" r="1" fill="#0e140e"/><circle cx="940.43" cy="18.01" r="1.36" fill="#22301f"/><circle cx="938.3" cy="20.72" r="0.98" fill="#18241a"/><circle cx="936.33" cy="20.78" r="1.78" fill="#10180f"/><circle cx="936.59" cy="20.2" r="1.36" fill="#141d14"/><circle cx="927.42" cy="14.14" r="1.1" fill="#10180f"/><circle cx="937.29" cy="15.72" r="1.77" fill="#1b2a1b"/><circle cx="929.59" cy="18.32" r="1.18" fill="#10180f"/><circle cx="931.28" cy="18.06" r="1.59" fill="#1b2a1b"/><circle cx="924.67" cy="13.05" r="1.26" fill="#0e140e"/><circle cx="939.82" cy="10.61" r="1.8" fill="#18241a"/><circle cx="934.98" cy="18.36" r="1.05" fill="#0e140e"/><circle cx="936.74" cy="12.25" r="0.92" fill="#141d14"/><circle cx="941.5" cy="11.28" r="1.34" fill="#141d14"/><circle cx="926" cy="14.54" r="1.44" fill="#22301f"/><circle cx="942.39" cy="17.63" r="1.74" fill="#18241a"/><circle cx="942.64" cy="16.73" r="1.56" fill="#1b2a1b"/><circle cx="925.74" cy="18.89" r="1.44" fill="#18241a"/><circle cx="941.14" cy="18.57" r="0.94" fill="#0e140e"/><circle cx="927.35" cy="12.01" r="0.97" fill="#10180f"/><circle cx="934.37" cy="15.77" r="1.89" fill="#18241a"/><circle cx="932.79" cy="15.97" r="1.45" fill="#18241a"/><circle cx="932.23" cy="16.94" r="1.6" fill="#10180f"/><circle cx="930" cy="14.78" r="1.95" fill="#0e140e"/><circle cx="925.33" cy="13.91" r="1.58" fill="#0e140e"/><circle cx="935.63" cy="18.74" r="1.92" fill="#1b2a1b"/><circle cx="932.62" cy="19.86" r="0.97" fill="#141d14"/><circle cx="938.24" cy="17.88" r="1.21" fill="#18241a"/><circle cx="929.79" cy="15.62" r="1.43" fill="#141d14"/><circle cx="927.82" cy="13.63" r="1.1" fill="#0e140e"/><circle cx="940.84" cy="12.89" r="1.79" fill="#10180f"/><circle cx="941.95" cy="13.67" r="1.04" fill="#10180f"/><circle cx="940.01" cy="13.46" r="1.18" fill="#1b2a1b"/><circle cx="930.57" cy="16.81" r="1.29" fill="#22301f"/><circle cx="922.19" cy="13.01" r="0.81" fill="#141d14"/><circle cx="940.73" cy="15.63" r="1.72" fill="#0e140e"/><circle cx="935.68" cy="17.75" r="1.55" fill="#18241a"/><circle cx="937.54" cy="21.64" r="0.9" fill="#0e140e"/><circle cx="937.01" cy="15.37" r="1.72" fill="#0e140e"/><circle cx="936.93" cy="21.54" r="1.31" fill="#0e140e"/><circle cx="942.94" cy="18.34" r="1.24" fill="#141d14"/><circle cx="939.88" cy="16.93" r="1.11" fill="#1b2a1b"/><circle cx="921.49" cy="16.99" r="1.49" fill="#0e140e"/><circle cx="922.98" cy="12.18" r="1.79" fill="#10180f"/><circle cx="923.6" cy="15.35" r="1.34" fill="#0e140e"/><circle cx="924.44" cy="12.75" r="1.99" fill="#18241a"/><circle cx="926.85" cy="11.8" r="1.29" fill="#0e140e"/><circle cx="919.66" cy="11.78" r="1.87" fill="#18241a"/><circle cx="924.47" cy="8.97" r="1.96" fill="#0e140e"/><circle cx="920.75" cy="8.97" r="1.37" fill="#1b2a1b"/><circle cx="924.75" cy="9.94" r="1.68" fill="#141d14"/><circle cx="926.38" cy="10.93" r="1.7" fill="#18241a"/><circle cx="925.84" cy="13.84" r="0.9" fill="#18241a"/><circle cx="923.46" cy="11.98" r="1.6" fill="#1b2a1b"/><circle cx="926.07" cy="13.49" r="1.54" fill="#10180f"/><circle cx="921.49" cy="13.84" r="1" fill="#10180f"/><circle cx="923.87" cy="10.53" r="1.94" fill="#18241a"/><circle cx="939.26" cy="24.09" r="0.97" fill="#0e140e"/><circle cx="938.36" cy="23.8" r="1.56" fill="#10180f"/><circle cx="939.72" cy="25" r="1.34" fill="#1b2a1b"/><circle cx="943.42" cy="23.1" r="1.15" fill="#0e140e"/><circle cx="941.46" cy="23.86" r="1.76" fill="#22301f"/><circle cx="937.98" cy="23.45" r="1.97" fill="#141d14"/><circle cx="941.21" cy="20.78" r="1.31" fill="#141d14"/><circle cx="938.52" cy="24.16" r="1.52" fill="#141d14"/><circle cx="943.69" cy="20.55" r="0.8" fill="#1b2a1b"/><circle cx="937.22" cy="19.42" r="1.9" fill="#0e140e"/><circle cx="937.46" cy="19.27" r="1.87" fill="#22301f"/><circle cx="943.57" cy="22.93" r="1.73" fill="#10180f"/><circle cx="938.16" cy="18.77" r="1.46" fill="#10180f"/><circle cx="936.41" cy="24.75" r="1.92" fill="#141d14"/><circle cx="937.71" cy="18.52" r="1.27" fill="#18241a"/><circle cx="936.48" cy="20.29" r="1.7" fill="#10180f"/><circle cx="939.52" cy="18.79" r="1.77" fill="#0e140e"/><circle cx="936.79" cy="23.22" r="1.88" fill="#22301f"/><circle cx="937.85" cy="22.56" r="1.04" fill="#141d14"/><circle cx="936.31" cy="19.63" r="1.64" fill="#1b2a1b"/><circle cx="940.93" cy="21.23" r="1.74" fill="#141d14"/><circle cx="936.96" cy="26.3" r="1.39" fill="#0e140e"/><circle cx="926.97" cy="20.78" r="0.9" fill="#1b2a1b"/><circle cx="928.78" cy="20.07" r="1.42" fill="#0e140e"/><circle cx="930.97" cy="21.39" r="1.5" fill="#141d14"/><circle cx="926.09" cy="22.68" r="1.31" fill="#10180f"/><circle cx="930.14" cy="22.91" r="1.96" fill="#1b2a1b"/><circle cx="930.75" cy="20.03" r="1.99" fill="#10180f"/><circle cx="928.46" cy="23.22" r="1.35" fill="#0e140e"/><circle cx="930.9" cy="21.84" r="1.91" fill="#18241a"/><circle cx="928.52" cy="21.84" r="1.95" fill="#18241a"/><circle cx="928.05" cy="19.1" r="1.82" fill="#1b2a1b"/><circle cx="935.8" cy="30.52" r="1.88" fill="#0e140e"/><circle cx="940.58" cy="34.1" r="1.58" fill="#10180f"/><circle cx="939.59" cy="29.99" r="1.51" fill="#18241a"/><circle cx="934.45" cy="30.24" r="1.11" fill="#0e140e"/><circle cx="936.87" cy="30.8" r="1.33" fill="#141d14"/><circle cx="937.71" cy="36.13" r="1.76" fill="#141d14"/><circle cx="937.53" cy="27.97" r="1.91" fill="#0e140e"/><circle cx="939.16" cy="31.52" r="1.21" fill="#141d14"/><circle cx="937.8" cy="33.28" r="0.97" fill="#141d14"/><circle cx="940.12" cy="28.8" r="1.34" fill="#141d14"/><circle cx="937.45" cy="28.49" r="1.3" fill="#141d14"/><circle cx="934.9" cy="29.71" r="1.81" fill="#1b2a1b"/><circle cx="940.74" cy="29.61" r="0.93" fill="#10180f"/><circle cx="941.56" cy="33.68" r="1.05" fill="#10180f"/><circle cx="937.39" cy="29.62" r="1.09" fill="#141d14"/><circle cx="934.38" cy="29.89" r="1.88" fill="#0e140e"/><circle cx="931.73" cy="46.24" r="1.33" fill="#22301f"/><circle cx="934.09" cy="38.24" r="0.8" fill="#22301f"/><circle cx="933.44" cy="41.76" r="0.85" fill="#10180f"/><circle cx="932.62" cy="45.14" r="0.97" fill="#141d14"/><circle cx="936.26" cy="39.69" r="1.01" fill="#22301f"/><circle cx="937.3" cy="43.93" r="1.13" fill="#141d14"/><circle cx="931.64" cy="46.72" r="1.55" fill="#141d14"/><circle cx="937" cy="39.24" r="0.88" fill="#18241a"/><circle cx="936.23" cy="49.46" r="1.9" fill="#22301f"/><circle cx="939.73" cy="41.36" r="1.81" fill="#10180f"/><circle cx="931.08" cy="42.55" r="1.72" fill="#141d14"/><circle cx="940.46" cy="40.26" r="1.02" fill="#1b2a1b"/><circle cx="936.9" cy="49.73" r="1.23" fill="#10180f"/><circle cx="934.28" cy="39.92" r="1.8" fill="#1b2a1b"/><circle cx="939.35" cy="49.89" r="1.49" fill="#0e140e"/><circle cx="933.5" cy="37.72" r="1.68" fill="#10180f"/><circle cx="936.16" cy="44.49" r="1.44" fill="#0e140e"/><circle cx="932.92" cy="37.42" r="1.54" fill="#141d14"/><circle cx="931.23" cy="40.01" r="1.78" fill="#0e140e"/><circle cx="938.86" cy="40.18" r="1.8" fill="#18241a"/><circle cx="936.92" cy="44.37" r="1.64" fill="#0e140e"/><circle cx="934.21" cy="37.5" r="1.01" fill="#1b2a1b"/><circle cx="931.48" cy="43.9" r="1.4" fill="#1b2a1b"/><circle cx="940.61" cy="44.67" r="1.07" fill="#141d14"/><circle cx="931.77" cy="45.17" r="1.7" fill="#141d14"/><circle cx="937.62" cy="47.1" r="1.52" fill="#22301f"/><circle cx="936.31" cy="42.33" r="1.93" fill="#1b2a1b"/><circle cx="934.06" cy="39.85" r="1.2" fill="#10180f"/><circle cx="940.12" cy="45.03" r="1.98" fill="#1b2a1b"/><circle cx="939.78" cy="49.56" r="0.86" fill="#22301f"/><circle cx="931.76" cy="46.88" r="1.22" fill="#10180f"/><circle cx="933.89" cy="39.21" r="1.6" fill="#141d14"/><circle cx="937.6" cy="48.95" r="1.86" fill="#0e140e"/><circle cx="930.41" cy="46.27" r="1.12" fill="#18241a"/><circle cx="937.48" cy="46.05" r="1.77" fill="#0e140e"/><circle cx="937.46" cy="40.01" r="1.42" fill="#10180f"/><circle cx="931.36" cy="41.56" r="1" fill="#0e140e"/><circle cx="937.13" cy="51.3" r="1.42" fill="#1b2a1b"/><circle cx="931.01" cy="45.44" r="1.92" fill="#10180f"/><circle cx="933.52" cy="42.5" r="1.15" fill="#141d14"/><circle cx="943.01" cy="52.54" r="1.14" fill="#10180f"/><circle cx="942.2" cy="51.45" r="1.58" fill="#141d14"/><circle cx="941.81" cy="50.15" r="1.87" fill="#1b2a1b"/><circle cx="942.22" cy="50.8" r="1.17" fill="#141d14"/><circle cx="940.44" cy="49.01" r="1.46" fill="#22301f"/><circle cx="940.84" cy="53.71" r="0.99" fill="#141d14"/><circle cx="940.37" cy="49.88" r="1.12" fill="#141d14"/><circle cx="940.19" cy="52.74" r="0.99" fill="#0e140e"/><circle cx="932.01" cy="40.09" r="1.59" fill="#22301f"/><circle cx="930.96" cy="40.64" r="1.68" fill="#0e140e"/><circle cx="931.6" cy="43.94" r="1.61" fill="#141d14"/><circle cx="931.1" cy="42.01" r="0.97" fill="#141d14"/><circle cx="932.06" cy="43.1" r="1.79" fill="#22301f"/><circle cx="953.3" cy="15.44" r="1.56" fill="#18241a"/><circle cx="958.37" cy="13.98" r="1.96" fill="#22301f"/><circle cx="951.39" cy="17.85" r="1.14" fill="#22301f"/><circle cx="958.72" cy="12.68" r="1.34" fill="#10180f"/><circle cx="953.61" cy="12.38" r="1.22" fill="#22301f"/><circle cx="957.89" cy="12.73" r="1.19" fill="#18241a"/><circle cx="962.59" cy="14" r="1.33" fill="#141d14"/><circle cx="957.59" cy="17.33" r="1.32" fill="#10180f"/><circle cx="958.31" cy="9.47" r="1.9" fill="#1b2a1b"/><circle cx="964.5" cy="15.19" r="1.09" fill="#1b2a1b"/><circle cx="952.27" cy="13.19" r="1.89" fill="#0e140e"/><circle cx="963.33" cy="11.8" r="1.44" fill="#1b2a1b"/><circle cx="957.62" cy="19.48" r="1.42" fill="#22301f"/><circle cx="960.63" cy="13.23" r="1.36" fill="#0e140e"/><circle cx="958.52" cy="12.36" r="1.94" fill="#18241a"/><circle cx="955.55" cy="14.01" r="1.58" fill="#22301f"/><circle cx="951.47" cy="10.57" r="1.31" fill="#10180f"/><circle cx="956.04" cy="15.37" r="2" fill="#1b2a1b"/><circle cx="960.07" cy="16.71" r="0.91" fill="#1b2a1b"/><circle cx="962.22" cy="14.14" r="0.93" fill="#1b2a1b"/><circle cx="960.04" cy="17.53" r="1.99" fill="#10180f"/><circle cx="959.1" cy="14.26" r="1.78" fill="#141d14"/><circle cx="957.08" cy="10.57" r="1.02" fill="#18241a"/><circle cx="958.04" cy="9.67" r="1.48" fill="#18241a"/><circle cx="959.18" cy="8.97" r="1.29" fill="#0e140e"/><circle cx="953.91" cy="16.1" r="0.8" fill="#1b2a1b"/><circle cx="955.36" cy="9.58" r="0.82" fill="#0e140e"/><circle cx="952.15" cy="13.98" r="1.46" fill="#1b2a1b"/><circle cx="957.23" cy="10.08" r="1.04" fill="#22301f"/><circle cx="961.15" cy="9.67" r="0.92" fill="#141d14"/><circle cx="964.17" cy="13.89" r="1.36" fill="#10180f"/><circle cx="954.17" cy="16.37" r="1.22" fill="#141d14"/><circle cx="949.53" cy="15.42" r="1.83" fill="#22301f"/><circle cx="958.98" cy="8.72" r="1.06" fill="#10180f"/><circle cx="958.32" cy="19.06" r="1.33" fill="#22301f"/><circle cx="952.81" cy="10.95" r="0.99" fill="#22301f"/><circle cx="962.68" cy="11.96" r="1.88" fill="#10180f"/><circle cx="953.86" cy="15.13" r="1.95" fill="#10180f"/><circle cx="964.24" cy="24.22" r="1.5" fill="#10180f"/><circle cx="961.66" cy="25.63" r="1.38" fill="#141d14"/><circle cx="965.68" cy="22.27" r="1.24" fill="#1b2a1b"/><circle cx="963.24" cy="22.2" r="1.28" fill="#0e140e"/><circle cx="966.23" cy="22.46" r="1.9" fill="#22301f"/><circle cx="961.21" cy="20.84" r="1.14" fill="#141d14"/><circle cx="962.55" cy="21.45" r="0.83" fill="#141d14"/><circle cx="961.19" cy="20.41" r="1.04" fill="#22301f"/><circle cx="962.6" cy="25.35" r="1.77" fill="#141d14"/><circle cx="990.28" cy="10.16" r="1.29" fill="#18241a"/><circle cx="997.86" cy="13.05" r="1.07" fill="#10180f"/><circle cx="994.28" cy="17.42" r="2" fill="#22301f"/><circle cx="997.2" cy="13.88" r="1.24" fill="#141d14"/><circle cx="990.75" cy="13.1" r="0.95" fill="#0e140e"/><circle cx="994.31" cy="8.91" r="1.82" fill="#18241a"/><circle cx="995.53" cy="11.85" r="1.59" fill="#22301f"/><circle cx="994.74" cy="14.95" r="1.73" fill="#141d14"/><circle cx="989.67" cy="14.63" r="0.93" fill="#22301f"/><circle cx="995.36" cy="9.93" r="1.66" fill="#0e140e"/><circle cx="988.44" cy="9.26" r="1.66" fill="#1b2a1b"/><circle cx="990.13" cy="16.44" r="1.36" fill="#18241a"/><circle cx="987.22" cy="10.77" r="0.84" fill="#18241a"/><circle cx="975.69" cy="20.34" r="1.88" fill="#0e140e"/><circle cx="974.43" cy="20.39" r="1.1" fill="#10180f"/><circle cx="971.67" cy="19.9" r="1.02" fill="#0e140e"/><circle cx="970.94" cy="19.76" r="1.06" fill="#18241a"/><circle cx="969.96" cy="16.89" r="1.16" fill="#10180f"/><circle cx="975.14" cy="19.37" r="1.56" fill="#141d14"/><circle cx="973.58" cy="17.09" r="1.4" fill="#22301f"/><circle cx="970.79" cy="18.54" r="1.62" fill="#1b2a1b"/><circle cx="975.37" cy="20.09" r="1.88" fill="#22301f"/><circle cx="998.64" cy="20.38" r="1.09" fill="#0e140e"/><circle cx="995.22" cy="22.55" r="1.73" fill="#1b2a1b"/><circle cx="999.5" cy="20.69" r="1.63" fill="#10180f"/><circle cx="996.32" cy="24.22" r="1.22" fill="#10180f"/><circle cx="997.66" cy="22.72" r="1.4" fill="#18241a"/><circle cx="999.98" cy="25.02" r="1.34" fill="#0e140e"/><circle cx="972.94" cy="31.35" r="1.61" fill="#141d14"/><circle cx="970.88" cy="31.2" r="1.94" fill="#22301f"/><circle cx="968.37" cy="34.42" r="1.96" fill="#18241a"/><circle cx="968.1" cy="31.84" r="1.96" fill="#141d14"/><circle cx="969.44" cy="33.2" r="1.04" fill="#1b2a1b"/><circle cx="967.01" cy="35.68" r="1.38" fill="#10180f"/><circle cx="968.12" cy="31.68" r="1.42" fill="#10180f"/><circle cx="966.96" cy="35.27" r="1.64" fill="#141d14"/><circle cx="971.7" cy="32.5" r="1.78" fill="#22301f"/><circle cx="970.17" cy="37.97" r="1.61" fill="#141d14"/><circle cx="972.09" cy="33.65" r="1.72" fill="#141d14"/><circle cx="966.76" cy="32.1" r="1.23" fill="#141d14"/><circle cx="968.84" cy="30.5" r="1.17" fill="#0e140e"/><circle cx="967.27" cy="33.51" r="1.48" fill="#1b2a1b"/><circle cx="973.75" cy="30.26" r="1.66" fill="#18241a"/><circle cx="971.7" cy="30.48" r="1.39" fill="#10180f"/><circle cx="970.87" cy="36.55" r="1.19" fill="#1b2a1b"/><circle cx="975.62" cy="35.3" r="1.55" fill="#18241a"/><circle cx="972.68" cy="31.76" r="1.1" fill="#141d14"/><circle cx="969.85" cy="30.81" r="1.24" fill="#18241a"/><circle cx="971.28" cy="37.56" r="1.62" fill="#0e140e"/><circle cx="974.13" cy="36.97" r="1.69" fill="#1b2a1b"/><circle cx="978.83" cy="43.91" r="1.23" fill="#141d14"/><circle cx="978.63" cy="42.66" r="1.24" fill="#1b2a1b"/><circle cx="982.2" cy="43.67" r="1.78" fill="#18241a"/><circle cx="979.26" cy="36.16" r="1.06" fill="#10180f"/><circle cx="980.99" cy="37.55" r="1.16" fill="#22301f"/><circle cx="983.28" cy="37.34" r="1.07" fill="#141d14"/><circle cx="979.98" cy="48.11" r="0.91" fill="#0e140e"/><circle cx="987.31" cy="41.73" r="1.06" fill="#1b2a1b"/><circle cx="987.4" cy="45.73" r="1.31" fill="#1b2a1b"/><circle cx="984.79" cy="47.08" r="0.88" fill="#0e140e"/><circle cx="983.99" cy="46.24" r="1.88" fill="#141d14"/><circle cx="986.47" cy="44.28" r="1.48" fill="#10180f"/><circle cx="973.53" cy="39.71" r="1.35" fill="#22301f"/><circle cx="983.16" cy="46.04" r="0.87" fill="#18241a"/><circle cx="977.97" cy="44.06" r="1.48" fill="#10180f"/><circle cx="989.15" cy="41.75" r="1.58" fill="#1b2a1b"/><circle cx="987.57" cy="42.4" r="1.56" fill="#141d14"/><circle cx="976" cy="45.12" r="1.63" fill="#141d14"/><circle cx="983.89" cy="40.34" r="1.5" fill="#10180f"/><circle cx="978.48" cy="38.62" r="1.33" fill="#1b2a1b"/><circle cx="988.02" cy="42.63" r="0.93" fill="#1b2a1b"/><circle cx="983.69" cy="37.94" r="1.6" fill="#18241a"/><circle cx="980.81" cy="42.7" r="1.07" fill="#22301f"/><circle cx="984.54" cy="45.06" r="1.89" fill="#22301f"/><circle cx="973.44" cy="40.8" r="0.89" fill="#10180f"/><circle cx="974.42" cy="42.04" r="1.41" fill="#0e140e"/><circle cx="983.28" cy="47.98" r="1.42" fill="#10180f"/><circle cx="986.94" cy="40.6" r="1.01" fill="#141d14"/><circle cx="982.13" cy="45.57" r="0.96" fill="#22301f"/><circle cx="982.7" cy="38.27" r="1.16" fill="#18241a"/><circle cx="975.63" cy="36.99" r="1.67" fill="#1b2a1b"/><circle cx="975.02" cy="45.19" r="1.21" fill="#18241a"/><circle cx="984.25" cy="46.23" r="0.95" fill="#1b2a1b"/><circle cx="981.24" cy="42.32" r="1.23" fill="#10180f"/><circle cx="972.78" cy="43.35" r="0.92" fill="#22301f"/><circle cx="977.89" cy="43.34" r="0.84" fill="#18241a"/><circle cx="976.36" cy="40.11" r="1.63" fill="#0e140e"/><circle cx="987.09" cy="43.06" r="0.94" fill="#0e140e"/><circle cx="980.78" cy="36.46" r="1.11" fill="#141d14"/><circle cx="981.98" cy="39.27" r="1.62" fill="#10180f"/><circle cx="987.05" cy="43.15" r="1.1" fill="#18241a"/><circle cx="985.71" cy="38.99" r="1.33" fill="#0e140e"/><circle cx="978.16" cy="37.46" r="1.4" fill="#0e140e"/><circle cx="975.28" cy="46.14" r="1.62" fill="#10180f"/><circle cx="984.47" cy="41.33" r="1.08" fill="#22301f"/><circle cx="981.31" cy="40.19" r="1.43" fill="#1b2a1b"/><circle cx="988.09" cy="43.16" r="0.85" fill="#141d14"/><circle cx="986.75" cy="44.95" r="1.2" fill="#10180f"/><circle cx="978.98" cy="40.1" r="0.81" fill="#22301f"/><circle cx="980.7" cy="38.45" r="1.1" fill="#22301f"/><circle cx="984.08" cy="39.04" r="1.13" fill="#22301f"/><circle cx="982.32" cy="43.1" r="0.97" fill="#18241a"/><circle cx="972.61" cy="42.79" r="1.73" fill="#141d14"/><circle cx="985.94" cy="43.73" r="1.56" fill="#1b2a1b"/><circle cx="986.25" cy="45.81" r="1.09" fill="#141d14"/><circle cx="995.54" cy="44.06" r="1.72" fill="#18241a"/><circle cx="991.08" cy="52.3" r="1.09" fill="#22301f"/><circle cx="996.02" cy="44.52" r="1.65" fill="#18241a"/><circle cx="992.74" cy="45.01" r="1.09" fill="#141d14"/><circle cx="988.88" cy="52.83" r="1.61" fill="#10180f"/><circle cx="992.24" cy="48.03" r="1.16" fill="#141d14"/><circle cx="994.22" cy="41.66" r="1.66" fill="#1b2a1b"/><circle cx="996.17" cy="47.77" r="1.92" fill="#1b2a1b"/><circle cx="998.95" cy="48.27" r="1.17" fill="#1b2a1b"/><circle cx="996.84" cy="45.92" r="1.84" fill="#0e140e"/><circle cx="997.74" cy="44.29" r="1.01" fill="#1b2a1b"/><circle cx="993.65" cy="50.88" r="1.55" fill="#141d14"/><circle cx="995.86" cy="42.77" r="1.28" fill="#141d14"/><circle cx="998.5" cy="43.74" r="1.4" fill="#0e140e"/><circle cx="988.75" cy="50.51" r="1.96" fill="#22301f"/><circle cx="997.43" cy="48.13" r="1.66" fill="#0e140e"/><circle cx="988.63" cy="47.55" r="1.85" fill="#18241a"/><circle cx="990.5" cy="52.52" r="0.83" fill="#10180f"/><circle cx="991.67" cy="49.68" r="1.21" fill="#0e140e"/><circle cx="998.09" cy="51.44" r="0.9" fill="#22301f"/><circle cx="990.68" cy="46.92" r="1.52" fill="#1b2a1b"/><circle cx="995.16" cy="44.2" r="1.3" fill="#18241a"/><circle cx="996.14" cy="44.44" r="0.91" fill="#141d14"/><circle cx="988.95" cy="47.44" r="1.81" fill="#1b2a1b"/><circle cx="997.4" cy="45.85" r="1.45" fill="#22301f"/><circle cx="999.74" cy="48.12" r="1.08" fill="#22301f"/><circle cx="989.61" cy="50.17" r="1.72" fill="#18241a"/><circle cx="990.33" cy="51.09" r="1.97" fill="#10180f"/><circle cx="993.83" cy="44.92" r="1.44" fill="#1b2a1b"/><circle cx="992.66" cy="49.33" r="1.73" fill="#1b2a1b"/><circle cx="988.11" cy="48.93" r="1.28" fill="#0e140e"/><circle cx="999.12" cy="48.87" r="0.95" fill="#22301f"/><circle cx="993.03" cy="47.83" r="1.02" fill="#22301f"/><circle cx="991.12" cy="41.74" r="1.01" fill="#18241a"/><circle cx="997.98" cy="51.19" r="1.43" fill="#1b2a1b"/><circle cx="996.89" cy="43.14" r="1.98" fill="#10180f"/><circle cx="998.61" cy="45.34" r="1.05" fill="#0e140e"/><circle cx="987.51" cy="50.5" r="0.88" fill="#18241a"/><circle cx="998.79" cy="49.61" r="1.22" fill="#141d14"/><circle cx="993.9" cy="45.65" r="1.9" fill="#18241a"/><circle cx="966.76" cy="27.79" r="1.1" fill="#1b2a1b"/><circle cx="967.26" cy="27.93" r="1.23" fill="#1b2a1b"/><circle cx="967.56" cy="31.14" r="1.16" fill="#10180f"/><circle cx="964.3" cy="30.56" r="0.99" fill="#1b2a1b"/><circle cx="964.8" cy="26.71" r="0.8" fill="#141d14"/><circle cx="963.97" cy="31.46" r="1.52" fill="#10180f"/><circle cx="967.69" cy="32.81" r="1.68" fill="#0e140e"/><circle cx="967.68" cy="32.91" r="1.02" fill="#141d14"/><circle cx="1000.82" cy="53.78" r="1" fill="#18241a"/><circle cx="998.92" cy="56.31" r="1.57" fill="#18241a"/><circle cx="1000.71" cy="60.06" r="1.98" fill="#0e140e"/><circle cx="999.98" cy="54.61" r="1.55" fill="#0e140e"/><circle cx="996.91" cy="57.04" r="1.08" fill="#10180f"/><circle cx="1000.61" cy="58.83" r="0.86" fill="#1b2a1b"/><circle cx="999.64" cy="53.02" r="1.07" fill="#22301f"/><circle cx="997.53" cy="58.91" r="1.4" fill="#0e140e"/><circle cx="968.18" cy="50.22" r="1.95" fill="#0e140e"/><circle cx="967.1" cy="45.22" r="1.96" fill="#141d14"/><circle cx="969.39" cy="45.68" r="1.01" fill="#1b2a1b"/><circle cx="966.6" cy="46.11" r="0.85" fill="#10180f"/><circle cx="968.26" cy="47.89" r="1.63" fill="#18241a"/><circle cx="969.31" cy="46.69" r="1.18" fill="#10180f"/><circle cx="967.3" cy="44.71" r="1.71" fill="#10180f"/><circle cx="968.81" cy="45.41" r="1.4" fill="#1b2a1b"/><circle cx="992.32" cy="36.11" r="1.99" fill="#141d14"/><circle cx="991.96" cy="31.61" r="1.54" fill="#0e140e"/><circle cx="992.33" cy="33.27" r="1.58" fill="#22301f"/><circle cx="992.02" cy="34.19" r="1.49" fill="#10180f"/><circle cx="992.95" cy="36.97" r="1.41" fill="#22301f"/><circle cx="990.55" cy="33.66" r="1.79" fill="#18241a"/><circle cx="994.43" cy="33.49" r="0.88" fill="#22301f"/><circle cx="987.2" cy="35.62" r="1.79" fill="#0e140e"/><circle cx="991.55" cy="34.8" r="1.07" fill="#22301f"/><circle cx="993.18" cy="32.84" r="1.81" fill="#18241a"/><circle cx="988.17" cy="35.13" r="1.48" fill="#141d14"/><circle cx="988.37" cy="32.43" r="1" fill="#1b2a1b"/><circle cx="981.91" cy="49.38" r="1.79" fill="#10180f"/><circle cx="986.85" cy="53.22" r="1.89" fill="#1b2a1b"/><circle cx="983.05" cy="54.66" r="1.78" fill="#0e140e"/><circle cx="983.28" cy="53.62" r="1.25" fill="#1b2a1b"/><circle cx="982.85" cy="54.43" r="1.43" fill="#10180f"/><circle cx="985.3" cy="50.2" r="1.15" fill="#10180f"/><circle cx="985.56" cy="51.59" r="1.37" fill="#141d14"/><circle cx="986.07" cy="49.2" r="1.62" fill="#1b2a1b"/><circle cx="983.91" cy="53.28" r="1.55" fill="#22301f"/><defs><filter id="soft" x="-2%" y="-2%" width="104%" height="104%"><feGaussianBlur stdDeviation="0.45"/></filter></defs><g id="life" filter="url(#soft)"><g fill="none" stroke="#2ac934" stroke-width="5" stroke-linecap="butt">
<circle cx="133.3" cy="436.3" r="4.05" stroke-width="4.3"/><path d="M138 436.3H143.4" stroke-width="4"/>
<path d="M257 434.7H280.5"/>
<path d="M392.6 434.7C405 435.5 412.2 443 412.2 455V503"/>
<path d="M412.2 595V649C412.2 660 405 667 393.8 667.5"/>
<path d="M256.5 667.8H280"/>
<path d="M144 665.3C132 665 125.9 658 125.9 648V607"/>
<path d="M108.3 615.9L125.9 605.6L143.7 615.9" stroke-width="5.6"/>
</g>
<g transform="translate(140 420) scale(0.11719)" fill="none" stroke="#3c6a28" stroke-width="10.67" stroke-linejoin="round" stroke-linecap="round">
<path stroke="#50674a" stroke-width="8.96" d="M38 140V-188H452M933 -188H975V140"/>
<path d="M48 142L130 100L265 60L330 95L385 122M525 212L640 165L735 130L790 155L852 188M205 216L370 170M200 312L400 266M185 420L400 380M535 250L600 232L660 262L700 258"/>
<path d="M97 146L125 111L135 100L145 111L173 146M97 146L116 127L135 146L154 127L173 146M114 141L131 125M156 141L139 125M87 192L123 155L135 142L147 155L183 192M87 192L106 171L125 192L145 171L164 192L183 171M109 187L130 169M161 187L140 169M77 238L120 198L135 184L150 198L193 238M77 238L96 215L116 238L135 215L154 238L174 215L193 238M103 232L129 214M167 232L141 214M67 283L118 241L135 226L152 241L203 283M67 283L86 259L106 283L125 259L145 283L164 259L184 283L203 259M98 278L128 258M172 278L142 258M57 329L115 284L135 269L155 284L213 329M57 329L76 304L96 329L115 304L135 329L155 304L174 329L194 304L213 329M92 323L127 302M178 323L143 302M47 375L113 327L135 311L157 327L223 375M47 375L67 348L86 375L106 348L125 375L145 348L164 375L184 348L203 375L223 348M87 369L126 346M183 369L144 346M119 365V493M151 365V493M135 375V493"/><path d="M410 86L436 55L445 45L454 55L480 86M410 86L427 69L445 86L463 69L480 86M425 82L441 68M465 82L449 68M401 128L434 94L445 83L456 94L489 128M401 128L419 109L436 128L454 109L471 128L489 109M421 123L441 108M469 123L449 108M393 169L432 133L445 121L458 133L497 169M393 169L410 149L428 169L445 149L462 169L480 149L497 169M416 164L440 148M474 164L450 148M385 211L430 172L445 159L460 172L505 211M385 211L402 189L419 211L436 189L454 211L471 189L488 211L505 189M412 206L439 188M478 206L451 188M377 252L428 211L445 197L462 211L513 252M377 252L394 229L411 252L428 229L445 252L462 229L479 252L496 229L513 252M407 247L438 228M483 247L452 228M368 294L426 250L445 236L464 250L522 294M368 294L385 269L402 294L419 269L436 294L454 269L471 294L488 269L505 294L522 269M403 288L437 267M487 288L453 267M360 335L424 289L445 274L466 289L530 335M360 335L377 309L394 335L411 309L428 335L445 309L462 335L479 309L496 335L513 309L530 335M398 329L436 307M492 329L454 307M427 325V440M463 325V440M445 335V440"/>
<path d="M852 185a50 50 0 1 1 30 52M885 238q40 -15 70 8q25 5 18 25q-30 15 -60 5"/>
<path d="M520 300H640V432H520ZM532 312H580V360H532ZM592 312H630V360H592ZM532 372l12 50l14 -40l14 40l12 -50M600 372v50M620 372v50M480 330H520V430H480Z"/>
<circle cx="752" cy="240" r="27"/><path d="M722 232q5 -30 32 -32q28 2 34 30M718 234H792M735 268L690 330L655 400M770 268L800 330M640 300L800 462M800 300L640 452M690 300q30 -20 60 -10M705 330L765 395"/>
<path d="M780 340H975V442H780ZM780 362H975M850 362V442M915 362V442M810 340q5 -30 35 -40q20 -15 45 0q30 -15 50 5q30 5 30 35M860 312h30M905 318h25"/>
<path d="M600 432H690V470H600ZM610 445H680M690 440h30"/>
<path d="M690 432h30a24 24 0 0 1 0 48h-30Z"/><circle cx="802" cy="460" r="19"/><circle cx="802" cy="460" r="7"/><circle cx="872" cy="460" r="19"/><circle cx="872" cy="460" r="7"/><path d="M910 445h60v28h-60ZM45 495H985"/>
<path d="M100 486q19 -26 38 0q19 -26 38 0q19 -26 38 0q19 -26 38 0q19 -26 38 0q19 -26 38 0q19 -26 38 0q19 -26 38 0q19 -26 38 0q19 -26 38 0q19 -26 38 0q19 -26 38 0q19 -26 38 0"/><path d="M118 492q19 -14 38 0q19 -14 38 0q19 -14 38 0q19 -14 38 0q19 -14 38 0q19 -14 38 0q19 -14 38 0q19 -14 38 0q19 -14 38 0q19 -14 38 0q19 -14 38 0q19 -14 38 0"/>
<path d="M395 455l20 -25l25 30l20 -28l22 30l20 -22M560 470h40"/>
</g>
<g transform="translate(276 390) scale(0.11976)" fill="none" stroke="#3c6a28" stroke-width="10.44" stroke-linejoin="round" stroke-linecap="round">
<path stroke="#50674a" stroke-width="8.77" d="M42 738V62H445M905 62H948V738M42 738H948"/>
<path d="M625 128C600 120 585 130 570 140C550 125 520 130 505 150C480 135 450 145 440 165C415 150 380 160 370 180C345 165 310 170 300 188C275 180 250 165 245 140C225 135 212 110 205 85C185 100 165 125 172 152C160 175 175 205 195 212C195 245 220 275 255 280C275 298 310 290 330 268C355 275 380 262 392 245C420 252 445 245 455 225C480 225 498 205 505 188C530 190 552 178 562 165C585 165 605 155 622 142"/>
<path d="M615 295L637 132H663L690 295M705 295L727 122H765L790 295M800 295L827 112H870L890 295M622 128H680M712 118H780M812 108H885M645 132L668 295M655 132L640 295M740 122L765 295M752 122L728 295M843 112L868 295M855 112L825 295"/>
<path d="M515 296H948" stroke-width="17"/>
<path d="M520 305V738" stroke-width="11"/>
<path d="M545 342H948V392H545Z" stroke-width="12"/><path d="M552 358H945M552 376H945" stroke-width="9"/><path d="M570 345L570 390M600 345L600 390M630 345L630 390M660 345L660 390M690 345L690 390M720 345L720 390M750 345L750 390M780 345L780 390M810 345L810 390M840 345L840 390M870 345L870 390M900 345L900 390M930 345L930 390"/>
<path d="M42 345C200 338 380 342 518 352M42 362C180 352 330 356 440 362L518 355M60 386C180 376 320 378 425 384M42 402C90 396 140 396 185 400M200 370C300 364 400 368 470 362M42 330H515"/>
<path d="M42 402C75 390 115 392 135 405C165 398 188 420 182 445C195 470 185 500 165 515M42 470C70 458 100 462 112 478C135 472 160 488 158 510M120 440q20 -15 40 0M60 500l25 20M150 515V560M165 515V570"/>
<path d="M575 560C565 535 590 515 615 525C635 505 680 508 695 530C725 525 745 555 730 580C745 600 755 630 765 665L745 680C730 655 705 645 690 625C660 632 640 615 645 595C610 600 580 585 575 560Z"/>
<path d="M775 490H948M775 490V660M780 552H948M780 620H948M775 660H948M530 655H775M560 690H760"/>
<circle cx="830" cy="700" r="28"/><circle cx="830" cy="700" r="12"/><circle cx="905" cy="700" r="28"/><circle cx="905" cy="700" r="12"/><path d="M770 680H800M770 720H800"/>
<path d="M48 560H125L150 600V715H48ZM58 575H115L130 610H58ZM60 640l30 60M90 640l-30 60M48 625H150"/>
<path d="M185 575H270L300 620L310 700H175V600ZM195 590H260L280 622H195ZM180 650H305M185 670H305M200 640v50M230 640v50M260 640v50"/>
<circle cx="270" cy="695" r="30"/><circle cx="270" cy="695" r="13"/><circle cx="95" cy="712" r="22"/><circle cx="200" cy="712" r="16"/>
<path d="M290 580L315 555L345 545L360 560L385 548L400 575L425 570L445 595M340 600q25 -20 50 0M350 545l-5 -15l15 5"/>
<path d="M345 625q30 -15 50 10q10 30 -10 60l-25 35M365 640l20 40M395 700l20 -50l-15 -30"/>
<circle cx="470" cy="612" r="13"/><path d="M448 600q22 -20 45 0M470 626V690M470 645L440 680M470 645L500 675M470 690L455 735M470 690L490 735M430 660l15 60M500 680l15 50"/>
</g>
<g transform="translate(352 500) scale(0.13016)" fill="none" stroke="#3c6a28" stroke-width="9.60" stroke-linejoin="round" stroke-linecap="round">
<path stroke="#50674a" stroke-width="8.07" d="M40 515V88H410M40 680V712H850M40 680H160"/>
<path d="M45 335L330 128M48 514L352 136" stroke-width="11"/>
<path d="M60 498L332 150"/>
<path d="M55 505L75 310L105 444L125 275L150 388L170 244L195 332L215 212L240 276L258 182L282 223L298 153L322 172"/>
<path d="M350 136V505M275 300V500" stroke-width="5.5"/>
<path d="M465 345V296H655V345" stroke-width="12"/>
<path d="M220 352H840" stroke-width="14"/>
<path d="M250 362H800L785 386H265Z"/><path d="M270 362L260 386M296 362L286 386M322 362L312 386M348 362L338 386M374 362L364 386M400 362L390 386M426 362L416 386M452 362L442 386M478 362L468 386M504 362L494 386M530 362L520 386M556 362L546 386M582 362L572 386M608 362L598 386M634 362L624 386M660 362L650 386M686 362L676 386M712 362L702 386M738 362L728 386M764 362L754 386"/>
<path d="M230 360V490M275 386V490M350 386V490M450 386V490M540 386V490M625 386V490M715 386V490M825 360V490M242 360V490M812 360V490"/>
<path d="M220 495H830" stroke-width="11"/>
<path d="M680 335L695 290L745 272M695 290V345M700 300l20 15"/>
<path d="M460 522L600 445L612 455L600 490M585 450l15 -22l12 8"/>
<path d="M40 515H160V680M40 560H160M40 640H160"/>
<path d="M175 560H240V660H175ZM190 585q15 -20 30 0v40h-30ZM240 540H330V575H240ZM250 600q30 -25 60 0v60h-60Z"/>
<path d="M330 505V690M350 560H450V650H350ZM360 575H440M450 520V650M470 560H530V600H470ZM480 520H700V545H480Z"/>
<path d="M500 600H600V660H500ZM510 612H590V640H510ZM610 570H680V600H610ZM605 610H690V660H605ZM540 545V600M640 545V570"/>
<path d="M700 562L760 512L850 522L856 622L792 652H722ZM760 512L790 650M805 517L832 632M700 562L722 652"/>
<path d="M770 625H850V660H770Z"/><circle cx="820" cy="682" r="25"/><circle cx="820" cy="682" r="9"/>
<path d="M130 690H600" stroke-width="17"/><path d="M420 640H520V680H420Z" stroke-width="12"/>
<path d="M160 665H330M620 680H790"/>
</g>
<g transform="translate(276 615) scale(0.13016)" fill="none" stroke="#3c6a28" stroke-width="9.60" stroke-linejoin="round" stroke-linecap="round">
<path stroke="#50674a" stroke-width="8.07" d="M48 722V95H415M855 95H878V722M48 722H878"/>
<path d="M328 268C340 245 322 232 308 225C320 205 300 190 288 185C295 168 280 155 262 148M322 270C310 250 285 250 275 235C255 232 240 215 238 200C215 195 205 178 200 165C180 162 165 152 148 146"/>
<path d="M315 346L330 270L346 346M280 346V316H291V346"/>
<path d="M222 352H850L836 396H236Z" stroke-width="10"/><path d="M230 372H842"/>
<path d="M470 350V320H680V350M476 332H674" stroke-width="10"/>
<path d="M236 396V705M262 396V690M800 396V690M830 396V705"/>
<path d="M270 406H796V500H270Z" stroke-width="11"/><path d="M350 406V500M455 406V500M545 406V500M635 406V500M720 406V500M270 432H796" stroke-width="10"/>
<path d="M262 500H800M262 550H800M262 525H800"/>
<path d="M270 556H345V662H270ZM356 556H440V662H356ZM640 556H700V662H640ZM270 585H440" stroke-width="10"/>
<path d="M495 545H592V680H495ZM505 556H582V670H505Z" stroke-width="10"/><path d="M515 600l28 -25l28 25l-10 45h-36ZM520 650h45M530 610v30M555 610v30" stroke-width="11"/>
<path d="M450 690H640V722M465 705H625M262 690H450"/>
<path d="M48 378C110 376 170 372 222 366M48 394C120 392 175 386 215 376M48 410C100 408 150 402 195 392"/>
<path d="M72 560a68 72 0 1 1 136 10a68 70 0 0 1 -136 -10Z" fill="#fff"/><path d="M62 648L56 720M79 648L73 720M96 648L90 720M113 648L107 720M130 648L124 720M147 648L141 720M164 648L158 720M181 648L175 720M198 648L192 720M215 648L209 720"/><path d="M60 648L52 720M215 640L222 720M100 640l40 80M180 640l-40 80"/>
<path d="M672 572a63 66 0 1 1 126 12a63 62 0 0 1 -126 -12ZM778 612a44 46 0 1 1 88 6a44 44 0 0 1 -88 -6Z" fill="#fff"/><path d="M722 655L718 720M736 655L732 720M750 655L746 720M764 655L760 720M778 655L774 720M792 655L788 720M806 655L802 720M820 655L816 720M834 655L830 720"/><path d="M720 650V720M835 665V720"/>
<path d="M240 716q20 -34 40 0q20 -34 40 0q20 -34 40 0q20 -34 40 0q20 -34 40 0"/><path d="M260 720q20 -16 40 0q20 -16 40 0q20 -16 40 0q20 -16 40 0q20 -16 40 0"/><path d="M650 718q18 -26 35 0q18 -26 35 0"/>
</g>
<g transform="translate(140 615) scale(0.13016)" fill="none" stroke="#3c6a28" stroke-width="9.60" stroke-linejoin="round" stroke-linecap="round">
<path stroke="#50674a" stroke-width="8.07" d="M48 490V95H420M840 100H870V370M48 715H870"/>
<path d="M388 118L672 548M398 112L735 505" stroke-width="11"/>
<path d="M398 112L650 348L800 520"/>
<path d="M410 150l25 5l-8 28l30 8l-8 28l30 10l-8 28l32 10l-8 30l32 10l-8 30l32 10l-8 30l32 12l-8 30l32 12l-8 30l32 10"/>
<path d="M388 118L336 335" stroke-width="5.5"/><circle cx="325" cy="360" r="25"/>
<path d="M375 356H800" stroke-width="15"/>
<path d="M400 364V515M780 364V540M410 420H530V500H410ZM490 420V500M450 420V500M560 420H700V500H560ZM600 420V500M650 420V500M720 420H770V500H720Z" stroke-width="10"/>
<path d="M395 520H600V540H395ZM410 540V690M590 540V690M440 552H540V672H440ZM455 565H525V660H455ZM395 690H600V712H395Z" stroke-width="10"/>
<path d="M190 400V620M204 400V600M190 540H380V560H190ZM225 560V690M225 575H300V640H225ZM330 560v80M300 600l40 50"/>
<path d="M300 420q-40 50 0 105M345 420L400 392M290 520q40 20 90 8"/>
<path d="M52 495a55 55 0 0 1 20 110M50 610q40 -10 70 10"/>
<path fill="#fff" d="M770 392C785 370 825 370 838 392C868 392 878 430 858 448C880 470 868 515 840 520C832 545 800 545 792 522M800 440q-12 30 10 55M840 470l20 30"/>
<path d="M600 572a40 55 0 1 1 80 0a40 55 0 0 1 -80 0Z" fill="#fff"/><path d="M628 625V710M650 625V710"/>
<path d="M680 560H812V652H680ZM695 572H760V615H695ZM660 652H862V700H660ZM675 676H850M770 572H800V640H770Z" stroke-width="10"/>
<path d="M700 545L745 500M820 560v90M830 600h30v50"/>
<path d="M55 650q30 -25 60 -8q25 -25 60 -5q30 -15 55 8M60 680q35 -18 70 0q35 -20 70 0q30 -12 55 5M120 640l40 30M180 660l30 -20M250 610l20 40l-25 40M270 650l30 30M55 700h40M120 705h50M200 700h45M310 660h70v40h-70ZM320 690l40 -25"/>
<path d="M600 690H700M840 650v60"/>
</g>
<g transform="translate(65 500) scale(0.13016)" fill="none" stroke="#3c6a28" stroke-width="9.60" stroke-linejoin="round" stroke-linecap="round">
<path stroke="#50674a" stroke-width="8.07" d="M55 400V125M872 125V345M55 735H880"/>
<path d="M540 347H875" stroke-width="13"/>
<path d="M555 352V735M567 352V735"/>
<path d="M680 522H872V550H680Z" stroke-width="12"/><path d="M560 530H680M560 550H680M560 540H680"/>
<path d="M600 595H682V735M600 595V680M690 550V735M715 550V735M745 595H850M745 595V735M612 608H672V660H612Z"/>
<path d="M690 340L710 172H735L755 340M780 340V296H791V340M700 255H745"/>
<path d="M712 170C700 155 680 172 665 164C650 155 630 172 612 166C602 162 595 168 590 162M738 168q8 -10 -2 -18"/>
<path d="M55 400C80 388 110 390 125 405C150 392 195 395 210 412C232 410 245 435 235 455C262 462 285 490 278 518C292 540 288 565 280 578M55 470C85 455 120 460 132 478C160 470 195 482 200 505C228 505 250 528 245 552M55 560H245M245 560V660M262 560V640"/>
<path d="M70 500q25 -20 50 0M130 515q20 -18 45 -2M190 535q15 -15 35 0M80 530l30 18M150 540l25 15M75 545l20 10M105 490l25 12M175 500l25 15"/><path d="M65 520L51 558M81 520L67 558M97 520L83 558M113 520L99 558M129 520L115 558M145 520L131 558M161 520L147 558M177 520L163 558M193 520L179 558M209 520L195 558M225 520L211 558"/>
<path d="M330 560C345 538 385 535 400 550C420 528 470 530 485 552C515 545 545 565 545 590C552 615 545 640 532 652M420 585q20 -15 40 2M460 615q18 -12 35 2M400 640q20 10 40 0"/>
<path d="M55 672H250V702H55ZM255 705V600L300 580H370L405 650V705ZM270 605H325V650H270ZM338 592H362L385 645H338Z"/>
<path d="M250 580V700" stroke-width="12"/>
<circle cx="100" cy="706" r="25"/><circle cx="100" cy="706" r="10"/><circle cx="375" cy="700" r="30"/><circle cx="375" cy="700" r="13"/>
<circle cx="512" cy="645" r="10"/><path d="M512 655V700M512 700L502 733M512 700L522 733M498 670h28"/>
<circle cx="322" cy="592" r="11"/><path d="M310 605V690M334 605V690M310 690v42M334 690v42M310 640h24"/>
<path d="M575 715C580 685 610 668 650 672L678 690V715ZM590 715a12 12 0 0 1 24 0M640 715a12 12 0 0 1 24 0M600 672l10 -12h40l12 14"/>
<path d="M420 700q20 -15 40 0q15 12 35 5"/>
</g>
<g transform="translate(169.8 559.3)" fill="none" stroke="#4b8a35" stroke-width="3.1"><path d="M-2.2 -5.2A5.6 5.6 0 0 1 5 -2.4M5.6 1.2A5.6 5.6 0 0 1 -0.6 5.6M-4.6 3.2A5.6 5.6 0 0 1 -4.9 -2.6"/><path d="M2.6 -7.2L8 -0.8L1.2 0.2ZM3 8.2L-3.6 6.8L0.6 1.8ZM-8.4 -0.4L-4.6 -6.6L-1.2 -1Z" fill="#4b8a35" stroke="none"/></g>
<g fill="#3a6326" font-family="'Liberation Sans','Noto Sans CJK SC',sans-serif" font-weight="bold">
<text x="195.4" y="401.2" font-size="12.6" letter-spacing="-0.15">资源开采</text>
<text x="331.6" y="401.2" font-size="12.6" letter-spacing="-0.1">生产制造</text>
<text x="411.8" y="514.8" font-size="12.6" letter-spacing="-0.1">现场施工</text>
<text x="334.4" y="631.3" font-size="12.4" letter-spacing="-0.1">使用维护</text>
<text x="198" y="630.8" font-size="12.2" letter-spacing="-0.1">报废拆除</text>
<text x="72.6" y="516.7" font-size="11.6" letter-spacing="-0.05">循环利用</text>
<text x="121.2" y="516.7" font-size="11.6">/</text>
<text x="128.3" y="516.7" font-size="11.6" letter-spacing="-0.05">废物处理</text>
<text x="198.2" y="557" font-size="20.7" letter-spacing="-0.1" fill="#c9cfc6">建筑全生命周期</text>
<text x="196.2" y="555" font-size="20.7" letter-spacing="-0.1">建筑全生命周期</text>
</g></g><g id="chart" filter="url(#soft)"><polygon points="559,661.8 600.6,654.2 600.6,661.8" fill="#ead531"/>
<polygon points="608.7,661.8 655.2,617.3 655.2,661.8" fill="#4b9ceb"/>
<polygon points="665.7,661.8 868,510 868,661.8" fill="#fbd6a3"/>
<polygon points="878.2,661.8 926.3,631.8 926.3,661.8" fill="#1d8859"/>
<rect x="500.5" y="677.6" width="57.4" height="16" fill="#90cb9c"/>
<rect x="565.6" y="673.6" width="26.8" height="25.8" fill="#ead531"/>
<rect x="612.5" y="678.3" width="33.3" height="25" fill="#4b9ceb"/>
<rect x="666.9" y="678.7" width="205.4" height="23.8" fill="#fbd6a3"/>
<rect x="879.8" y="678.3" width="46.5" height="25" fill="#1d8859"/>
<path d="M667 660.5L867.6 527M667 660.8L867.6 540M667 661L867.6 569.5M667 661.2L867.6 584.5" stroke="#4f3b28" stroke-width="1.3" stroke-dasharray="7.5 2.8" fill="none"/>
<path d="M502.8 669.8V442" stroke="#3a3a3a" stroke-width="1" fill="none"/>
<path d="M501.6 661.8H927M501.6 615.5H650" stroke="#1a1a1a" stroke-width="1.3" fill="none"/>
<path d="M502.8 439.6L500.4 445.4H505.2ZM929.4 661.8L923.6 659.4V664.1999999999999ZM653 615.5L647.2 613.1V617.9Z" fill="#111"/>
<path d="M502.5 660.4L546 659.9C552 659.6 556 659.2 560 658.4L602.7 649.8L646.6 606.9C653 600.5 660 596 668 593.2" stroke="#1d4c7d" stroke-width="4.3" fill="none" stroke-linejoin="round" stroke-linecap="round"/>
<g stroke="#1d4c7d" stroke-width="3.1" fill="none" stroke-linecap="butt"><path d="M655 598.5C663 594.5 668 593.3 674 590.2C705 566 735 541 762 520C800 491 835 466 867.8 443.4"/><path d="M657 598.2C664 595 669 593.6 675 590.8C715 567 755 544 790 523.2L867.8 475.5"/><path d="M659 598C665 595.6 670 594 676 591.6C715 575 755 556 790 540.5L867.8 507.8"/><path d="M661 597.8C667 596 671 594.6 677 592.6C715 580 755 565 790 553.2L867.8 526.6"/></g>
<path d="M517.6 437.3C517.77 439.42 518.1 445.67 518.6 450C519.1 454.33 519.62 458.97 520.6 463.3C521.58 467.63 522.78 471.72 524.5 476C526.22 480.28 528.48 484.5 530.9 489C533.32 493.5 535.87 498.3 539 503C542.13 507.7 545.78 512.62 549.7 517.2C553.62 521.78 557.82 526.2 562.5 530.5C567.18 534.8 572.72 539.33 577.8 543C582.88 546.67 587.53 549.38 593 552.5C598.47 555.62 604.6 558.68 610.6 561.7C616.6 564.72 622.75 567.67 629 570.6C635.25 573.53 641.58 576.37 648.1 579.3C654.62 582.23 659.45 584.62 668.1 588.2C676.75 591.78 688.28 596.87 700 600.8C711.72 604.73 726.68 608.85 738.4 611.8C750.12 614.75 759.2 616.43 770.3 618.5C781.4 620.57 793.28 622.52 805 624.2C816.72 625.88 828.43 627.42 840.6 628.6C852.77 629.78 865.7 630.63 878 631.3C890.3 631.97 908.33 632.38 914.4 632.6" stroke="#e9121d" stroke-width="4.3" fill="none" stroke-linecap="round"/>
<path d="M524.5 476C525.57 478.17 528.48 484.5 530.9 489C533.32 493.5 535.87 498.3 539 503C542.13 507.7 545.78 512.62 549.7 517.2C553.62 521.78 557.82 526.2 562.5 530.5C567.18 534.8 572.72 539.33 577.8 543C582.88 546.67 587.53 549.38 593 552.5C598.47 555.62 604.6 558.68 610.6 561.7C616.6 564.72 622.75 567.67 629 570.6C635.25 573.53 641.58 576.37 648.1 579.3C654.62 582.23 659.45 584.62 668.1 588.2C676.75 591.78 688.28 596.87 700 600.8C711.72 604.73 726.68 608.85 738.4 611.8C750.12 614.75 759.2 616.43 770.3 618.5C781.4 620.57 793.28 622.52 805 624.2C816.72 625.88 828.43 627.42 840.6 628.6C852.77 629.78 865.7 630.63 878 631.3C890.3 631.97 908.33 632.38 914.4 632.6" stroke="#e9121d" stroke-width="5.1" fill="none" stroke-linecap="round"/>
<path d="M549.7 517.2C551.83 519.42 557.82 526.2 562.5 530.5C567.18 534.8 572.72 539.33 577.8 543C582.88 546.67 587.53 549.38 593 552.5C598.47 555.62 604.6 558.68 610.6 561.7C616.6 564.72 622.75 567.67 629 570.6C635.25 573.53 641.58 576.37 648.1 579.3C654.62 582.23 659.45 584.62 668.1 588.2C676.75 591.78 688.28 596.87 700 600.8C711.72 604.73 726.68 608.85 738.4 611.8C750.12 614.75 759.2 616.43 770.3 618.5C781.4 620.57 793.28 622.52 805 624.2C816.72 625.88 828.43 627.42 840.6 628.6C852.77 629.78 871.77 630.85 878 631.3" stroke="#e9121d" stroke-width="5.8" fill="none" stroke-linecap="round"/>
<g font-family="'Liberation Serif','Noto Serif CJK SC',serif" font-size="9.2" stroke-width="0.2">
<text transform="translate(478.2 442.8) scale(0.68 1)" letter-spacing="0.5" fill="#111" stroke="#111">成本</text>
<text transform="translate(524.8 439) scale(0.74 1)" letter-spacing="0.73" fill="#111" stroke="#111">寿命周期成本可受影响的程度</text>
<text transform="translate(806.6 426.2) scale(0.72 1)" letter-spacing="0.66" fill="#111" stroke="#111">累计寿命周期成本</text>
<text transform="translate(876.9 558.4) scale(0.72 1)" letter-spacing="0.8" fill="#111" stroke="#111">潜在的成本节省</text>
<text transform="translate(912.2 674.6) scale(0.68 1)" letter-spacing="0.5" fill="#111" stroke="#111">时间</text>
<text transform="translate(503 689.6) scale(0.72 1)" letter-spacing="1.08" fill="#1c3a28" stroke="#1c3a28">项目概念</text>
<text transform="translate(533.4 689.6) scale(0.72 1)" fill="#1c3a28" stroke="#1c3a28">/</text>
<text transform="translate(539.3 689.6) scale(0.72 1)" letter-spacing="1.08" fill="#1c3a28" stroke="#1c3a28">筹资</text>
<text transform="translate(570 695.2) scale(0.72 1)" letter-spacing="1.08" fill="#3a3608" stroke="#3a3608">规划</text>
<text transform="translate(616.3 691.3) scale(0.72 1)" letter-spacing="1.08" fill="#0f3560" stroke="#0f3560">建设</text>
<text transform="translate(677.5 694.6) scale(0.72 1)" letter-spacing="0.94" fill="#3a3020" stroke="#3a3020">运营和管理</text>
<text transform="translate(882.5 690.6) scale(0.72 1)" letter-spacing="0.94" fill="#0c3a24" stroke="#0c3a24">产生新观点</text>
</g></g>
</svg>
<h1 class="tx" style="left:70px;top:32px;width:505px;height:46px;font-size:45px">一、绿色建筑内涵及背景</h1>
<div class="tx" style="left:57px;top:166px;width:332px;height:26px;font-size:25px">全生命周期生命体的生态建筑</div>
<p class="tx" style="left:63px;top:256px;width:872px;height:26px;font-size:25px">包括：规划设计、建材准备、建筑建造、建筑使用、建筑拆除阶段和废旧建材</p>
<p class="tx" style="left:168px;top:303px;width:160px;height:26px;font-size:25px">处置等阶段。</p>
<div class="tx" style="left:196px;top:537px;width:145px;height:21px;font-size:20px">建筑全生命周期</div>
<div class="tx" style="left:193px;top:384px;width:53px;height:13px;font-size:12px">资源开采</div>
<div class="tx" style="left:332px;top:384px;width:50px;height:13px;font-size:12px">生产制造</div>
<div class="tx" style="left:412px;top:505px;width:50px;height:13px;font-size:12px">现场施工</div>
<div class="tx" style="left:334px;top:620px;width:50px;height:13px;font-size:12px">使用维护</div>
<div class="tx" style="left:198px;top:620px;width:50px;height:13px;font-size:12px">报废拆除</div>
<div class="tx" style="left:73px;top:506px;width:104px;height:13px;font-size:11px">循环利用/废物处理</div>
<div class="tx" style="left:478px;top:435px;width:14px;height:8px;font-size:7px">成本</div>
<div class="tx" style="left:525px;top:431px;width:96px;height:8px;font-size:7px">寿命周期成本可受影响的程度</div>
<div class="tx" style="left:806px;top:417px;width:58px;height:8px;font-size:7px">累计寿命周期成本</div>
<div class="tx" style="left:877px;top:549px;width:51px;height:8px;font-size:7px">潜在的成本节省</div>
<div class="tx" style="left:912px;top:667px;width:14px;height:8px;font-size:7px">时间</div>
<div class="tx" style="left:503px;top:681px;width:53px;height:8px;font-size:7px">项目概念/筹资</div>
<div class="tx" style="left:570px;top:685px;width:16px;height:8px;font-size:7px">规划</div>
<div class="tx" style="left:616px;top:682px;width:16px;height:8px;font-size:7px">建设</div>
<div class="tx" style="left:678px;top:685px;width:40px;height:8px;font-size:7px">运营和管理</div>
<div class="tx" style="left:882px;top:682px;width:40px;height:8px;font-size:7px">产生新观点</div>
</body></html>
